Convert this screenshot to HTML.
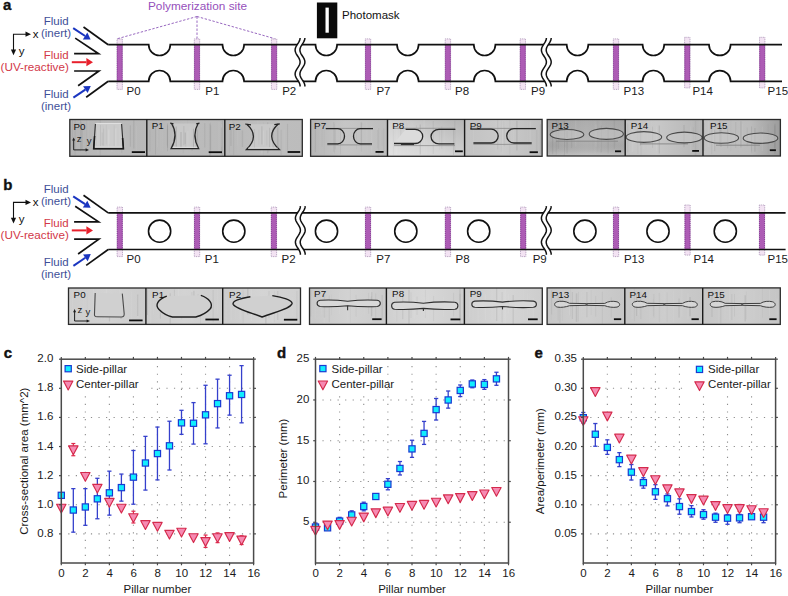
<!DOCTYPE html>
<html><head><meta charset="utf-8"><title>Figure</title>
<style>
html,body{margin:0;padding:0;background:#fff;}
body{width:788px;height:596px;overflow:hidden;}
svg{display:block;font-family:"Liberation Sans", sans-serif;}
</style></head><body>
<svg width="788" height="596" viewBox="0 0 788 596">
<rect x="0" y="0" width="788" height="596" fill="#fff"/>
<text x="3.0" y="9.5" font-size="15" font-weight="bold" fill="#111" stroke="#111" stroke-width="0.35">a</text>
<text x="68.6" y="25.00" font-size="11.5" fill="#3e4f98" text-anchor="end">Fluid</text>
<text x="71.0" y="37.00" font-size="11.5" fill="#3e4f98" text-anchor="end">(inert)</text>
<text x="68.6" y="58.60" font-size="11.5" fill="#d23848" text-anchor="end">Fluid</text>
<text x="68.8" y="70.90" font-size="11.5" fill="#d23848" text-anchor="end" textLength="68.2" lengthAdjust="spacingAndGlyphs">(UV-reactive)</text>
<text x="68.6" y="98.00" font-size="11.5" fill="#3e4f98" text-anchor="end">Fluid</text>
<text x="71.0" y="110.00" font-size="11.5" fill="#3e4f98" text-anchor="end">(inert)</text>
<g stroke="#111" stroke-width="1.1" fill="none"><polyline points="27,34.2 13.5,34.2 13.5,50"/></g>
<polygon points="25.5,31.6 31,34.2 25.5,36.8" fill="#111"/>
<polygon points="10.9,49.6 13.5,55.2 16.1,49.6" fill="#111"/>
<text x="32.8" y="37.60" font-size="11.5" fill="#111">x</text>
<text x="18.8" y="54.80" font-size="11.5" fill="#111">y</text>
<line x1="73.2" y1="28.1" x2="85.09" y2="35.96" stroke="#1a35c0" stroke-width="2.0"/>
<polygon points="90.60,39.60 82.83,39.38 87.35,32.54" fill="#1a35c0"/>
<line x1="71.8" y1="62.2" x2="86.40" y2="62.20" stroke="#e8202c" stroke-width="2.0"/>
<polygon points="93.00,62.20 86.40,66.30 86.40,58.10" fill="#e8202c"/>
<line x1="73.4" y1="97.6" x2="85.32" y2="89.58" stroke="#1a35c0" stroke-width="2.0"/>
<polygon points="90.80,85.90 87.61,92.99 83.04,86.18" fill="#1a35c0"/>
<rect x="117.00" y="38.90" width="5.4" height="50.50" fill="#f3e3f3" stroke="#9c84aa" stroke-width="0.7" stroke-dasharray="1 0.8"/>
<rect x="117.00" y="44.70" width="5.4" height="36.60" fill="#ad5cb5"/>
<path d="M117.20,44.70 V81.30 M122.20,44.70 V81.30" stroke="#7a2f8a" stroke-width="0.8" stroke-dasharray="1 1"/>
<rect x="194.30" y="38.90" width="5.4" height="50.50" fill="#f3e3f3" stroke="#9c84aa" stroke-width="0.7" stroke-dasharray="1 0.8"/>
<rect x="194.30" y="44.70" width="5.4" height="36.60" fill="#ad5cb5"/>
<path d="M194.50,44.70 V81.30 M199.50,44.70 V81.30" stroke="#7a2f8a" stroke-width="0.8" stroke-dasharray="1 1"/>
<rect x="271.40" y="38.90" width="5.4" height="50.50" fill="#f3e3f3" stroke="#9c84aa" stroke-width="0.7" stroke-dasharray="1 0.8"/>
<rect x="271.40" y="44.70" width="5.4" height="36.60" fill="#ad5cb5"/>
<path d="M271.60,44.70 V81.30 M276.60,44.70 V81.30" stroke="#7a2f8a" stroke-width="0.8" stroke-dasharray="1 1"/>
<rect x="365.30" y="38.90" width="5.4" height="50.50" fill="#f3e3f3" stroke="#9c84aa" stroke-width="0.7" stroke-dasharray="1 0.8"/>
<rect x="365.30" y="44.70" width="5.4" height="36.60" fill="#ad5cb5"/>
<path d="M365.50,44.70 V81.30 M370.50,44.70 V81.30" stroke="#7a2f8a" stroke-width="0.8" stroke-dasharray="1 1"/>
<rect x="445.20" y="38.90" width="5.4" height="50.50" fill="#f3e3f3" stroke="#9c84aa" stroke-width="0.7" stroke-dasharray="1 0.8"/>
<rect x="445.20" y="44.70" width="5.4" height="36.60" fill="#ad5cb5"/>
<path d="M445.40,44.70 V81.30 M450.40,44.70 V81.30" stroke="#7a2f8a" stroke-width="0.8" stroke-dasharray="1 1"/>
<rect x="520.10" y="38.90" width="5.4" height="50.50" fill="#f3e3f3" stroke="#9c84aa" stroke-width="0.7" stroke-dasharray="1 0.8"/>
<rect x="520.10" y="44.70" width="5.4" height="36.60" fill="#ad5cb5"/>
<path d="M520.30,44.70 V81.30 M525.30,44.70 V81.30" stroke="#7a2f8a" stroke-width="0.8" stroke-dasharray="1 1"/>
<rect x="613.30" y="38.90" width="5.4" height="50.50" fill="#f3e3f3" stroke="#9c84aa" stroke-width="0.7" stroke-dasharray="1 0.8"/>
<rect x="613.30" y="44.70" width="5.4" height="36.60" fill="#ad5cb5"/>
<path d="M613.50,44.70 V81.30 M618.50,44.70 V81.30" stroke="#7a2f8a" stroke-width="0.8" stroke-dasharray="1 1"/>
<rect x="684.60" y="37.30" width="5.4" height="50.60" fill="#f3e3f3" stroke="#9c84aa" stroke-width="0.7" stroke-dasharray="1 0.8"/>
<rect x="684.60" y="44.70" width="5.4" height="36.60" fill="#ad5cb5"/>
<path d="M684.80,44.70 V81.30 M689.80,44.70 V81.30" stroke="#7a2f8a" stroke-width="0.8" stroke-dasharray="1 1"/>
<rect x="759.50" y="37.30" width="5.4" height="50.60" fill="#f3e3f3" stroke="#9c84aa" stroke-width="0.7" stroke-dasharray="1 0.8"/>
<rect x="759.50" y="44.70" width="5.4" height="36.60" fill="#ad5cb5"/>
<path d="M759.70,44.70 V81.30 M764.70,44.70 V81.30" stroke="#7a2f8a" stroke-width="0.8" stroke-dasharray="1 1"/>
<g fill="none" stroke="#111" stroke-width="1.7" stroke-linejoin="miter">
<polyline points="83.5,27.0 108.2,44.7"/>
<polyline points="75.2,38.1 98.6,53.7 74.1,53.7"/>
<polyline points="74.1,71.0 98.9,71.0 78.1,85.8"/>
<polyline points="86.2,97.2 108.2,81.3"/>
<path d="M108.2,44.7 H148.70 A10.8,10.8 0 0 0 170.30,44.7 H222.50 A10.8,10.8 0 0 0 244.10,44.7 H315.50 A10.8,10.8 0 0 0 337.10,44.7 H397.00 A10.8,10.8 0 0 0 418.60,44.7 H473.80 A10.8,10.8 0 0 0 495.40,44.7 H566.70 A10.8,10.8 0 0 0 588.30,44.7 H642.60 A10.8,10.8 0 0 0 664.20,44.7 H709.00 A10.8,10.8 0 0 0 730.60,44.7 H782.0"/><path d="M108.2,81.3 H148.70 A10.8,10.8 0 0 1 170.30,81.3 H222.50 A10.8,10.8 0 0 1 244.10,81.3 H315.50 A10.8,10.8 0 0 1 337.10,81.3 H397.00 A10.8,10.8 0 0 1 418.60,81.3 H473.80 A10.8,10.8 0 0 1 495.40,81.3 H566.70 A10.8,10.8 0 0 1 588.30,81.3 H642.60 A10.8,10.8 0 0 1 664.20,81.3 H709.00 A10.8,10.8 0 0 1 730.60,81.3 H782.0"/>
</g>
<polygon points="300.10,38.00 299.97,39.22 299.61,40.43 299.05,41.64 298.34,42.86 297.55,44.08 296.77,45.29 296.08,46.50 295.53,47.72 295.20,48.94 295.10,50.15 295.26,51.36 295.65,52.58 296.24,53.80 296.96,55.01 297.75,56.22 298.52,57.44 299.20,58.66 299.72,59.87 300.03,61.08 300.09,62.30 299.91,63.52 299.49,64.73 298.88,65.94 298.15,67.16 297.35,68.38 296.59,69.59 295.92,70.80 295.43,72.02 295.15,73.23 295.12,74.45 295.33,75.66 295.78,76.88 296.40,78.09 297.15,79.31 297.94,80.52 298.70,81.74 299.35,82.95 299.82,84.17 300.07,85.38 300.07,86.60 304.87,86.60 304.87,85.38 304.62,84.17 304.15,82.95 303.50,81.74 302.74,80.52 301.95,79.31 301.20,78.09 300.58,76.88 300.13,75.66 299.92,74.45 299.95,73.23 300.23,72.02 300.72,70.80 301.39,69.59 302.15,68.38 302.95,67.16 303.68,65.94 304.29,64.73 304.71,63.52 304.89,62.30 304.83,61.08 304.52,59.87 304.00,58.66 303.32,57.44 302.55,56.22 301.76,55.01 301.04,53.80 300.45,52.58 300.06,51.36 299.90,50.15 300.00,48.94 300.33,47.72 300.88,46.50 301.57,45.29 302.35,44.08 303.14,42.86 303.85,41.64 304.41,40.43 304.77,39.22 304.90,38.00" fill="#fff" stroke="none"/>
<path d="M300.10,38.00 L299.97,39.22 L299.61,40.43 L299.05,41.64 L298.34,42.86 L297.55,44.08 L296.77,45.29 L296.08,46.50 L295.53,47.72 L295.20,48.94 L295.10,50.15 L295.26,51.36 L295.65,52.58 L296.24,53.80 L296.96,55.01 L297.75,56.22 L298.52,57.44 L299.20,58.66 L299.72,59.87 L300.03,61.08 L300.09,62.30 L299.91,63.52 L299.49,64.73 L298.88,65.94 L298.15,67.16 L297.35,68.38 L296.59,69.59 L295.92,70.80 L295.43,72.02 L295.15,73.23 L295.12,74.45 L295.33,75.66 L295.78,76.88 L296.40,78.09 L297.15,79.31 L297.94,80.52 L298.70,81.74 L299.35,82.95 L299.82,84.17 L300.07,85.38 L300.07,86.60" fill="none" stroke="#111" stroke-width="1.5"/>
<path d="M304.90,38.00 L304.77,39.22 L304.41,40.43 L303.85,41.64 L303.14,42.86 L302.35,44.08 L301.57,45.29 L300.88,46.50 L300.33,47.72 L300.00,48.94 L299.90,50.15 L300.06,51.36 L300.45,52.58 L301.04,53.80 L301.76,55.01 L302.55,56.22 L303.32,57.44 L304.00,58.66 L304.52,59.87 L304.83,61.08 L304.89,62.30 L304.71,63.52 L304.29,64.73 L303.68,65.94 L302.95,67.16 L302.15,68.38 L301.39,69.59 L300.72,70.80 L300.23,72.02 L299.95,73.23 L299.92,74.45 L300.13,75.66 L300.58,76.88 L301.20,78.09 L301.95,79.31 L302.74,80.52 L303.50,81.74 L304.15,82.95 L304.62,84.17 L304.87,85.38 L304.87,86.60" fill="none" stroke="#111" stroke-width="1.5"/>
<polygon points="546.40,38.00 546.27,39.22 545.91,40.43 545.35,41.64 544.64,42.86 543.85,44.08 543.07,45.29 542.38,46.50 541.83,47.72 541.50,48.94 541.40,50.15 541.56,51.36 541.95,52.58 542.54,53.80 543.26,55.01 544.05,56.22 544.82,57.44 545.50,58.66 546.02,59.87 546.33,61.08 546.39,62.30 546.21,63.52 545.79,64.73 545.18,65.94 544.45,67.16 543.65,68.38 542.89,69.59 542.22,70.80 541.73,72.02 541.45,73.23 541.42,74.45 541.63,75.66 542.08,76.88 542.70,78.09 543.45,79.31 544.24,80.52 545.00,81.74 545.65,82.95 546.12,84.17 546.37,85.38 546.37,86.60 551.17,86.60 551.17,85.38 550.92,84.17 550.45,82.95 549.80,81.74 549.04,80.52 548.25,79.31 547.50,78.09 546.88,76.88 546.43,75.66 546.22,74.45 546.25,73.23 546.53,72.02 547.02,70.80 547.69,69.59 548.45,68.38 549.25,67.16 549.98,65.94 550.59,64.73 551.01,63.52 551.19,62.30 551.13,61.08 550.82,59.87 550.30,58.66 549.62,57.44 548.85,56.22 548.06,55.01 547.34,53.80 546.75,52.58 546.36,51.36 546.20,50.15 546.30,48.94 546.63,47.72 547.18,46.50 547.87,45.29 548.65,44.08 549.44,42.86 550.15,41.64 550.71,40.43 551.07,39.22 551.20,38.00" fill="#fff" stroke="none"/>
<path d="M546.40,38.00 L546.27,39.22 L545.91,40.43 L545.35,41.64 L544.64,42.86 L543.85,44.08 L543.07,45.29 L542.38,46.50 L541.83,47.72 L541.50,48.94 L541.40,50.15 L541.56,51.36 L541.95,52.58 L542.54,53.80 L543.26,55.01 L544.05,56.22 L544.82,57.44 L545.50,58.66 L546.02,59.87 L546.33,61.08 L546.39,62.30 L546.21,63.52 L545.79,64.73 L545.18,65.94 L544.45,67.16 L543.65,68.38 L542.89,69.59 L542.22,70.80 L541.73,72.02 L541.45,73.23 L541.42,74.45 L541.63,75.66 L542.08,76.88 L542.70,78.09 L543.45,79.31 L544.24,80.52 L545.00,81.74 L545.65,82.95 L546.12,84.17 L546.37,85.38 L546.37,86.60" fill="none" stroke="#111" stroke-width="1.5"/>
<path d="M551.20,38.00 L551.07,39.22 L550.71,40.43 L550.15,41.64 L549.44,42.86 L548.65,44.08 L547.87,45.29 L547.18,46.50 L546.63,47.72 L546.30,48.94 L546.20,50.15 L546.36,51.36 L546.75,52.58 L547.34,53.80 L548.06,55.01 L548.85,56.22 L549.62,57.44 L550.30,58.66 L550.82,59.87 L551.13,61.08 L551.19,62.30 L551.01,63.52 L550.59,64.73 L549.98,65.94 L549.25,67.16 L548.45,68.38 L547.69,69.59 L547.02,70.80 L546.53,72.02 L546.25,73.23 L546.22,74.45 L546.43,75.66 L546.88,76.88 L547.50,78.09 L548.25,79.31 L549.04,80.52 L549.80,81.74 L550.45,82.95 L550.92,84.17 L551.17,85.38 L551.17,86.60" fill="none" stroke="#111" stroke-width="1.5"/>
<text x="126.5" y="95.00" font-size="11.5" fill="#1a1a1a">P0</text>
<text x="205.3" y="95.00" font-size="11.5" fill="#1a1a1a">P1</text>
<text x="282.2" y="95.00" font-size="11.5" fill="#1a1a1a">P2</text>
<text x="376.4" y="95.00" font-size="11.5" fill="#1a1a1a">P7</text>
<text x="455.0" y="95.00" font-size="11.5" fill="#1a1a1a">P8</text>
<text x="531.0" y="95.00" font-size="11.5" fill="#1a1a1a">P9</text>
<text x="623.6" y="95.00" font-size="11.5" fill="#1a1a1a">P13</text>
<text x="692.4" y="95.00" font-size="11.5" fill="#1a1a1a">P14</text>
<text x="767.6" y="95.00" font-size="11.5" fill="#1a1a1a">P15</text>
<text x="197.5" y="10.0" font-size="11.8" fill="#9550bb" text-anchor="middle">Polymerization site</text>
<g stroke="#9868c0" stroke-width="1" stroke-dasharray="2.4 1.6" fill="none">
<line x1="197" y1="16.5" x2="117.8" y2="38.6"/><line x1="197" y1="16.5" x2="197" y2="38.6"/><line x1="197" y1="16.5" x2="274.5" y2="38.6"/>
</g>
<rect x="316.9" y="2.5" width="20.4" height="35.8" fill="#0a0a0a"/>
<rect x="325.5" y="7.6" width="3.3" height="25.1" fill="#fff"/>
<text x="342" y="18.6" font-size="11.5" fill="#111">Photomask</text>
<text x="3.2" y="189.6" font-size="15" font-weight="bold" fill="#111" stroke="#111" stroke-width="0.35">b</text>
<text x="68.6" y="193.20" font-size="11.5" fill="#3e4f98" text-anchor="end">Fluid</text>
<text x="71.0" y="205.20" font-size="11.5" fill="#3e4f98" text-anchor="end">(inert)</text>
<text x="68.6" y="226.80" font-size="11.5" fill="#d23848" text-anchor="end">Fluid</text>
<text x="68.8" y="239.10" font-size="11.5" fill="#d23848" text-anchor="end" textLength="68.2" lengthAdjust="spacingAndGlyphs">(UV-reactive)</text>
<text x="68.6" y="266.20" font-size="11.5" fill="#3e4f98" text-anchor="end">Fluid</text>
<text x="71.0" y="278.20" font-size="11.5" fill="#3e4f98" text-anchor="end">(inert)</text>
<g stroke="#111" stroke-width="1.1" fill="none"><polyline points="27,202.39999999999998 13.5,202.39999999999998 13.5,218.2"/></g>
<polygon points="25.5,199.79999999999998 31,202.39999999999998 25.5,205.0" fill="#111"/>
<polygon points="10.9,217.79999999999998 13.5,223.39999999999998 16.1,217.79999999999998" fill="#111"/>
<text x="32.8" y="205.80" font-size="11.5" fill="#111">x</text>
<text x="18.8" y="223.00" font-size="11.5" fill="#111">y</text>
<line x1="73.2" y1="196.29999999999998" x2="85.09" y2="204.16" stroke="#1a35c0" stroke-width="2.0"/>
<polygon points="90.60,207.80 82.83,207.58 87.35,200.74" fill="#1a35c0"/>
<line x1="71.8" y1="230.39999999999998" x2="86.40" y2="230.40" stroke="#e8202c" stroke-width="2.0"/>
<polygon points="93.00,230.40 86.40,234.50 86.40,226.30" fill="#e8202c"/>
<line x1="73.4" y1="265.79999999999995" x2="85.32" y2="257.78" stroke="#1a35c0" stroke-width="2.0"/>
<polygon points="90.80,254.10 87.61,261.19 83.04,254.38" fill="#1a35c0"/>
<rect x="117.10" y="207.10" width="5.4" height="49.50" fill="#f3e3f3" stroke="#9c84aa" stroke-width="0.7" stroke-dasharray="1 0.8"/>
<rect x="117.10" y="212.90" width="5.4" height="36.60" fill="#ad5cb5"/>
<path d="M117.30,212.90 V249.50 M122.30,212.90 V249.50" stroke="#7a2f8a" stroke-width="0.8" stroke-dasharray="1 1"/>
<rect x="194.30" y="207.10" width="5.4" height="49.50" fill="#f3e3f3" stroke="#9c84aa" stroke-width="0.7" stroke-dasharray="1 0.8"/>
<rect x="194.30" y="212.90" width="5.4" height="36.60" fill="#ad5cb5"/>
<path d="M194.50,212.90 V249.50 M199.50,212.90 V249.50" stroke="#7a2f8a" stroke-width="0.8" stroke-dasharray="1 1"/>
<rect x="271.20" y="207.10" width="5.4" height="49.50" fill="#f3e3f3" stroke="#9c84aa" stroke-width="0.7" stroke-dasharray="1 0.8"/>
<rect x="271.20" y="212.90" width="5.4" height="36.60" fill="#ad5cb5"/>
<path d="M271.40,212.90 V249.50 M276.40,212.90 V249.50" stroke="#7a2f8a" stroke-width="0.8" stroke-dasharray="1 1"/>
<rect x="365.30" y="207.10" width="5.4" height="49.50" fill="#f3e3f3" stroke="#9c84aa" stroke-width="0.7" stroke-dasharray="1 0.8"/>
<rect x="365.30" y="212.90" width="5.4" height="36.60" fill="#ad5cb5"/>
<path d="M365.50,212.90 V249.50 M370.50,212.90 V249.50" stroke="#7a2f8a" stroke-width="0.8" stroke-dasharray="1 1"/>
<rect x="445.20" y="207.10" width="5.4" height="49.50" fill="#f3e3f3" stroke="#9c84aa" stroke-width="0.7" stroke-dasharray="1 0.8"/>
<rect x="445.20" y="212.90" width="5.4" height="36.60" fill="#ad5cb5"/>
<path d="M445.40,212.90 V249.50 M450.40,212.90 V249.50" stroke="#7a2f8a" stroke-width="0.8" stroke-dasharray="1 1"/>
<rect x="520.50" y="207.10" width="5.4" height="49.50" fill="#f3e3f3" stroke="#9c84aa" stroke-width="0.7" stroke-dasharray="1 0.8"/>
<rect x="520.50" y="212.90" width="5.4" height="36.60" fill="#ad5cb5"/>
<path d="M520.70,212.90 V249.50 M525.70,212.90 V249.50" stroke="#7a2f8a" stroke-width="0.8" stroke-dasharray="1 1"/>
<rect x="613.30" y="207.10" width="5.4" height="49.50" fill="#f3e3f3" stroke="#9c84aa" stroke-width="0.7" stroke-dasharray="1 0.8"/>
<rect x="613.30" y="212.90" width="5.4" height="36.60" fill="#ad5cb5"/>
<path d="M613.50,212.90 V249.50 M618.50,212.90 V249.50" stroke="#7a2f8a" stroke-width="0.8" stroke-dasharray="1 1"/>
<rect x="684.80" y="205.00" width="5.4" height="50.10" fill="#f3e3f3" stroke="#9c84aa" stroke-width="0.7" stroke-dasharray="1 0.8"/>
<rect x="684.80" y="212.90" width="5.4" height="36.60" fill="#ad5cb5"/>
<path d="M685.00,212.90 V249.50 M690.00,212.90 V249.50" stroke="#7a2f8a" stroke-width="0.8" stroke-dasharray="1 1"/>
<rect x="759.30" y="205.00" width="5.4" height="50.10" fill="#f3e3f3" stroke="#9c84aa" stroke-width="0.7" stroke-dasharray="1 0.8"/>
<rect x="759.30" y="212.90" width="5.4" height="36.60" fill="#ad5cb5"/>
<path d="M759.50,212.90 V249.50 M764.50,212.90 V249.50" stroke="#7a2f8a" stroke-width="0.8" stroke-dasharray="1 1"/>
<g fill="none" stroke="#111" stroke-width="1.7" stroke-linejoin="miter">
<polyline points="83.5,195.2 108.2,212.89999999999998"/>
<polyline points="75.2,206.29999999999998 98.6,221.89999999999998 74.1,221.89999999999998"/>
<polyline points="74.1,239.2 98.9,239.2 78.1,254.0"/>
<polyline points="86.2,265.4 108.2,249.5"/>
<path d="M108.2,212.89999999999998 H785.6"/><path d="M108.2,249.5 H785.6"/>
<circle cx="159.6" cy="231.20" r="11.1" stroke-width="1.6"/>
<circle cx="233.8" cy="231.20" r="11.1" stroke-width="1.6"/>
<circle cx="326.5" cy="231.20" r="11.1" stroke-width="1.6"/>
<circle cx="405.8" cy="231.20" r="11.1" stroke-width="1.6"/>
<circle cx="478.7" cy="231.20" r="11.1" stroke-width="1.6"/>
<circle cx="584.9" cy="231.20" r="11.1" stroke-width="1.6"/>
<circle cx="658.0" cy="231.20" r="11.1" stroke-width="1.6"/>
<circle cx="725.3" cy="231.20" r="11.1" stroke-width="1.6"/>
</g>
<polygon points="300.40,206.20 300.27,207.41 299.91,208.63 299.35,209.84 298.64,211.06 297.85,212.27 297.07,213.49 296.38,214.70 295.83,215.92 295.50,217.13 295.40,218.35 295.56,219.56 295.95,220.78 296.54,221.99 297.26,223.21 298.05,224.42 298.82,225.64 299.50,226.85 300.02,228.07 300.33,229.28 300.39,230.50 300.21,231.71 299.79,232.93 299.18,234.14 298.45,235.36 297.65,236.57 296.89,237.79 296.22,239.00 295.73,240.22 295.45,241.44 295.42,242.65 295.63,243.86 296.08,245.08 296.70,246.29 297.45,247.51 298.24,248.72 299.00,249.94 299.65,251.15 300.12,252.37 300.37,253.58 300.37,254.80 305.17,254.80 305.17,253.58 304.92,252.37 304.45,251.15 303.80,249.94 303.04,248.72 302.25,247.51 301.50,246.29 300.88,245.08 300.43,243.86 300.22,242.65 300.25,241.44 300.53,240.22 301.02,239.00 301.69,237.79 302.45,236.57 303.25,235.36 303.98,234.14 304.59,232.93 305.01,231.71 305.19,230.50 305.13,229.28 304.82,228.07 304.30,226.85 303.62,225.64 302.85,224.42 302.06,223.21 301.34,221.99 300.75,220.78 300.36,219.56 300.20,218.35 300.30,217.13 300.63,215.92 301.18,214.70 301.87,213.49 302.65,212.27 303.44,211.06 304.15,209.84 304.71,208.63 305.07,207.41 305.20,206.20" fill="#fff" stroke="none"/>
<path d="M300.40,206.20 L300.27,207.41 L299.91,208.63 L299.35,209.84 L298.64,211.06 L297.85,212.27 L297.07,213.49 L296.38,214.70 L295.83,215.92 L295.50,217.13 L295.40,218.35 L295.56,219.56 L295.95,220.78 L296.54,221.99 L297.26,223.21 L298.05,224.42 L298.82,225.64 L299.50,226.85 L300.02,228.07 L300.33,229.28 L300.39,230.50 L300.21,231.71 L299.79,232.93 L299.18,234.14 L298.45,235.36 L297.65,236.57 L296.89,237.79 L296.22,239.00 L295.73,240.22 L295.45,241.44 L295.42,242.65 L295.63,243.86 L296.08,245.08 L296.70,246.29 L297.45,247.51 L298.24,248.72 L299.00,249.94 L299.65,251.15 L300.12,252.37 L300.37,253.58 L300.37,254.80" fill="none" stroke="#111" stroke-width="1.5"/>
<path d="M305.20,206.20 L305.07,207.41 L304.71,208.63 L304.15,209.84 L303.44,211.06 L302.65,212.27 L301.87,213.49 L301.18,214.70 L300.63,215.92 L300.30,217.13 L300.20,218.35 L300.36,219.56 L300.75,220.78 L301.34,221.99 L302.06,223.21 L302.85,224.42 L303.62,225.64 L304.30,226.85 L304.82,228.07 L305.13,229.28 L305.19,230.50 L305.01,231.71 L304.59,232.93 L303.98,234.14 L303.25,235.36 L302.45,236.57 L301.69,237.79 L301.02,239.00 L300.53,240.22 L300.25,241.44 L300.22,242.65 L300.43,243.86 L300.88,245.08 L301.50,246.29 L302.25,247.51 L303.04,248.72 L303.80,249.94 L304.45,251.15 L304.92,252.37 L305.17,253.58 L305.17,254.80" fill="none" stroke="#111" stroke-width="1.5"/>
<polygon points="546.40,206.20 546.27,207.41 545.91,208.63 545.35,209.84 544.64,211.06 543.85,212.27 543.07,213.49 542.38,214.70 541.83,215.92 541.50,217.13 541.40,218.35 541.56,219.56 541.95,220.78 542.54,221.99 543.26,223.21 544.05,224.42 544.82,225.64 545.50,226.85 546.02,228.07 546.33,229.28 546.39,230.50 546.21,231.71 545.79,232.93 545.18,234.14 544.45,235.36 543.65,236.57 542.89,237.79 542.22,239.00 541.73,240.22 541.45,241.44 541.42,242.65 541.63,243.86 542.08,245.08 542.70,246.29 543.45,247.51 544.24,248.72 545.00,249.94 545.65,251.15 546.12,252.37 546.37,253.58 546.37,254.80 551.17,254.80 551.17,253.58 550.92,252.37 550.45,251.15 549.80,249.94 549.04,248.72 548.25,247.51 547.50,246.29 546.88,245.08 546.43,243.86 546.22,242.65 546.25,241.44 546.53,240.22 547.02,239.00 547.69,237.79 548.45,236.57 549.25,235.36 549.98,234.14 550.59,232.93 551.01,231.71 551.19,230.50 551.13,229.28 550.82,228.07 550.30,226.85 549.62,225.64 548.85,224.42 548.06,223.21 547.34,221.99 546.75,220.78 546.36,219.56 546.20,218.35 546.30,217.13 546.63,215.92 547.18,214.70 547.87,213.49 548.65,212.27 549.44,211.06 550.15,209.84 550.71,208.63 551.07,207.41 551.20,206.20" fill="#fff" stroke="none"/>
<path d="M546.40,206.20 L546.27,207.41 L545.91,208.63 L545.35,209.84 L544.64,211.06 L543.85,212.27 L543.07,213.49 L542.38,214.70 L541.83,215.92 L541.50,217.13 L541.40,218.35 L541.56,219.56 L541.95,220.78 L542.54,221.99 L543.26,223.21 L544.05,224.42 L544.82,225.64 L545.50,226.85 L546.02,228.07 L546.33,229.28 L546.39,230.50 L546.21,231.71 L545.79,232.93 L545.18,234.14 L544.45,235.36 L543.65,236.57 L542.89,237.79 L542.22,239.00 L541.73,240.22 L541.45,241.44 L541.42,242.65 L541.63,243.86 L542.08,245.08 L542.70,246.29 L543.45,247.51 L544.24,248.72 L545.00,249.94 L545.65,251.15 L546.12,252.37 L546.37,253.58 L546.37,254.80" fill="none" stroke="#111" stroke-width="1.5"/>
<path d="M551.20,206.20 L551.07,207.41 L550.71,208.63 L550.15,209.84 L549.44,211.06 L548.65,212.27 L547.87,213.49 L547.18,214.70 L546.63,215.92 L546.30,217.13 L546.20,218.35 L546.36,219.56 L546.75,220.78 L547.34,221.99 L548.06,223.21 L548.85,224.42 L549.62,225.64 L550.30,226.85 L550.82,228.07 L551.13,229.28 L551.19,230.50 L551.01,231.71 L550.59,232.93 L549.98,234.14 L549.25,235.36 L548.45,236.57 L547.69,237.79 L547.02,239.00 L546.53,240.22 L546.25,241.44 L546.22,242.65 L546.43,243.86 L546.88,245.08 L547.50,246.29 L548.25,247.51 L549.04,248.72 L549.80,249.94 L550.45,251.15 L550.92,252.37 L551.17,253.58 L551.17,254.80" fill="none" stroke="#111" stroke-width="1.5"/>
<text x="126.6" y="263.20" font-size="11.5" fill="#1a1a1a">P0</text>
<text x="204.8" y="263.20" font-size="11.5" fill="#1a1a1a">P1</text>
<text x="281.6" y="263.20" font-size="11.5" fill="#1a1a1a">P2</text>
<text x="376.3" y="263.20" font-size="11.5" fill="#1a1a1a">P7</text>
<text x="455.6" y="263.20" font-size="11.5" fill="#1a1a1a">P8</text>
<text x="532.7" y="263.20" font-size="11.5" fill="#1a1a1a">P9</text>
<text x="623.9" y="263.20" font-size="11.5" fill="#1a1a1a">P13</text>
<text x="693.5" y="263.20" font-size="11.5" fill="#1a1a1a">P14</text>
<text x="767.5" y="263.20" font-size="11.5" fill="#1a1a1a">P15</text>
<defs><linearGradient id="g1" x1="0" y1="0" x2="1" y2="0"><stop offset="0" stop-color="#b4b4b4"/><stop offset="0.5" stop-color="#bababa"/><stop offset="1" stop-color="#b8b8b8"/></linearGradient></defs>
<rect x="69.80" y="119.50" width="77.00" height="36.80" fill="url(#g1)"/>
<g><line x1="95.1" y1="125.4" x2="95.1" y2="152.3" stroke="#fff" stroke-opacity="0.034" stroke-width="0.7"/><line x1="75.1" y1="120.3" x2="75.1" y2="155.3" stroke="#000" stroke-opacity="0.052" stroke-width="1.1"/><line x1="102.6" y1="126.4" x2="102.6" y2="145.8" stroke="#000" stroke-opacity="0.041" stroke-width="1.4"/><line x1="114.1" y1="129.0" x2="114.1" y2="153.1" stroke="#fff" stroke-opacity="0.032" stroke-width="0.9"/><line x1="81.6" y1="121.5" x2="81.6" y2="149.9" stroke="#000" stroke-opacity="0.071" stroke-width="0.6"/><line x1="118.7" y1="120.2" x2="118.7" y2="154.0" stroke="#fff" stroke-opacity="0.033" stroke-width="0.9"/><line x1="121.8" y1="124.5" x2="121.8" y2="153.0" stroke="#000" stroke-opacity="0.059" stroke-width="1.0"/><line x1="130.4" y1="125.3" x2="130.4" y2="146.6" stroke="#000" stroke-opacity="0.059" stroke-width="1.3"/><line x1="125.5" y1="124.1" x2="125.5" y2="147.9" stroke="#fff" stroke-opacity="0.036" stroke-width="0.8"/><line x1="82.2" y1="127.9" x2="82.2" y2="150.0" stroke="#000" stroke-opacity="0.063" stroke-width="1.0"/><line x1="136.5" y1="125.9" x2="136.5" y2="151.3" stroke="#fff" stroke-opacity="0.060" stroke-width="0.8"/><line x1="133.8" y1="120.2" x2="133.8" y2="148.6" stroke="#000" stroke-opacity="0.063" stroke-width="1.5"/><line x1="119.3" y1="123.8" x2="119.3" y2="148.9" stroke="#fff" stroke-opacity="0.044" stroke-width="1.6"/><line x1="72.5" y1="120.2" x2="72.5" y2="147.8" stroke="#000" stroke-opacity="0.036" stroke-width="1.0"/><line x1="80.5" y1="120.4" x2="80.5" y2="151.3" stroke="#000" stroke-opacity="0.074" stroke-width="0.8"/><line x1="112.0" y1="122.6" x2="112.0" y2="151.7" stroke="#fff" stroke-opacity="0.073" stroke-width="1.5"/><line x1="97.7" y1="121.4" x2="97.7" y2="153.7" stroke="#fff" stroke-opacity="0.038" stroke-width="1.5"/><line x1="88.3" y1="119.5" x2="88.3" y2="151.7" stroke="#fff" stroke-opacity="0.043" stroke-width="1.0"/><line x1="98.5" y1="125.2" x2="98.5" y2="149.5" stroke="#fff" stroke-opacity="0.065" stroke-width="1.1"/><line x1="121.5" y1="129.2" x2="121.5" y2="147.5" stroke="#fff" stroke-opacity="0.069" stroke-width="0.6"/><line x1="100.2" y1="120.2" x2="100.2" y2="155.6" stroke="#000" stroke-opacity="0.062" stroke-width="0.9"/><line x1="86.5" y1="119.5" x2="86.5" y2="154.6" stroke="#000" stroke-opacity="0.033" stroke-width="0.7"/></g>
<defs><linearGradient id="g2" x1="0" y1="0" x2="1" y2="0"><stop offset="0" stop-color="#b6b6b6"/><stop offset="0.5" stop-color="#bcbcbc"/><stop offset="1" stop-color="#b9b9b9"/></linearGradient></defs>
<rect x="146.80" y="119.50" width="78.00" height="36.80" fill="url(#g2)"/>
<g><line x1="155.5" y1="126.3" x2="155.5" y2="154.7" stroke="#000" stroke-opacity="0.074" stroke-width="0.9"/><line x1="167.0" y1="128.9" x2="167.0" y2="145.3" stroke="#000" stroke-opacity="0.036" stroke-width="0.9"/><line x1="183.2" y1="123.3" x2="183.2" y2="153.4" stroke="#000" stroke-opacity="0.035" stroke-width="1.0"/><line x1="210.8" y1="125.3" x2="210.8" y2="154.7" stroke="#000" stroke-opacity="0.078" stroke-width="0.7"/><line x1="189.1" y1="129.0" x2="189.1" y2="148.6" stroke="#fff" stroke-opacity="0.079" stroke-width="0.5"/><line x1="167.6" y1="125.4" x2="167.6" y2="147.7" stroke="#000" stroke-opacity="0.069" stroke-width="0.9"/><line x1="172.9" y1="128.9" x2="172.9" y2="147.4" stroke="#fff" stroke-opacity="0.079" stroke-width="0.7"/><line x1="210.0" y1="123.4" x2="210.0" y2="156.0" stroke="#000" stroke-opacity="0.056" stroke-width="1.3"/><line x1="149.9" y1="130.1" x2="149.9" y2="151.4" stroke="#000" stroke-opacity="0.065" stroke-width="0.8"/><line x1="219.0" y1="121.9" x2="219.0" y2="153.8" stroke="#fff" stroke-opacity="0.048" stroke-width="1.6"/><line x1="162.7" y1="128.8" x2="162.7" y2="151.0" stroke="#fff" stroke-opacity="0.075" stroke-width="0.7"/><line x1="197.4" y1="129.5" x2="197.4" y2="147.7" stroke="#000" stroke-opacity="0.063" stroke-width="1.4"/><line x1="204.8" y1="123.2" x2="204.8" y2="147.5" stroke="#000" stroke-opacity="0.069" stroke-width="1.0"/><line x1="221.6" y1="127.5" x2="221.6" y2="154.4" stroke="#000" stroke-opacity="0.077" stroke-width="0.9"/><line x1="157.5" y1="121.1" x2="157.5" y2="147.2" stroke="#fff" stroke-opacity="0.070" stroke-width="0.7"/><line x1="222.3" y1="120.9" x2="222.3" y2="156.1" stroke="#000" stroke-opacity="0.057" stroke-width="1.2"/><line x1="221.6" y1="124.3" x2="221.6" y2="146.7" stroke="#fff" stroke-opacity="0.077" stroke-width="1.2"/><line x1="210.6" y1="122.2" x2="210.6" y2="149.8" stroke="#000" stroke-opacity="0.045" stroke-width="0.7"/><line x1="167.5" y1="123.4" x2="167.5" y2="151.2" stroke="#000" stroke-opacity="0.076" stroke-width="1.0"/><line x1="192.1" y1="125.0" x2="192.1" y2="150.4" stroke="#000" stroke-opacity="0.076" stroke-width="1.5"/><line x1="187.6" y1="119.5" x2="187.6" y2="147.5" stroke="#000" stroke-opacity="0.039" stroke-width="0.5"/><line x1="160.9" y1="123.1" x2="160.9" y2="150.6" stroke="#fff" stroke-opacity="0.058" stroke-width="1.0"/></g>
<defs><linearGradient id="g3" x1="0" y1="0" x2="1" y2="0"><stop offset="0" stop-color="#b8b8b8"/><stop offset="0.5" stop-color="#bebebe"/><stop offset="1" stop-color="#bcbcbc"/></linearGradient></defs>
<rect x="224.80" y="119.50" width="77.50" height="36.80" fill="url(#g3)"/>
<g><line x1="267.7" y1="122.2" x2="267.7" y2="153.2" stroke="#000" stroke-opacity="0.058" stroke-width="1.4"/><line x1="284.1" y1="129.6" x2="284.1" y2="151.4" stroke="#fff" stroke-opacity="0.068" stroke-width="1.1"/><line x1="272.0" y1="124.5" x2="272.0" y2="150.4" stroke="#fff" stroke-opacity="0.065" stroke-width="1.1"/><line x1="261.9" y1="129.9" x2="261.9" y2="153.4" stroke="#fff" stroke-opacity="0.074" stroke-width="1.5"/><line x1="268.0" y1="120.8" x2="268.0" y2="151.4" stroke="#fff" stroke-opacity="0.037" stroke-width="1.5"/><line x1="231.3" y1="128.2" x2="231.3" y2="146.4" stroke="#000" stroke-opacity="0.063" stroke-width="0.8"/><line x1="237.5" y1="129.2" x2="237.5" y2="145.6" stroke="#fff" stroke-opacity="0.037" stroke-width="1.3"/><line x1="242.4" y1="130.4" x2="242.4" y2="147.1" stroke="#000" stroke-opacity="0.054" stroke-width="1.5"/><line x1="238.0" y1="121.7" x2="238.0" y2="152.8" stroke="#fff" stroke-opacity="0.047" stroke-width="1.0"/><line x1="280.3" y1="119.7" x2="280.3" y2="152.6" stroke="#fff" stroke-opacity="0.052" stroke-width="0.5"/><line x1="272.9" y1="128.2" x2="272.9" y2="145.6" stroke="#000" stroke-opacity="0.079" stroke-width="1.1"/><line x1="233.7" y1="122.5" x2="233.7" y2="154.9" stroke="#000" stroke-opacity="0.069" stroke-width="0.8"/><line x1="257.7" y1="121.1" x2="257.7" y2="146.2" stroke="#fff" stroke-opacity="0.043" stroke-width="1.5"/><line x1="268.9" y1="127.1" x2="268.9" y2="151.6" stroke="#000" stroke-opacity="0.033" stroke-width="1.3"/><line x1="231.3" y1="120.4" x2="231.3" y2="146.8" stroke="#fff" stroke-opacity="0.070" stroke-width="1.5"/><line x1="230.8" y1="125.6" x2="230.8" y2="146.1" stroke="#000" stroke-opacity="0.047" stroke-width="1.4"/><line x1="246.0" y1="120.7" x2="246.0" y2="154.5" stroke="#fff" stroke-opacity="0.042" stroke-width="0.6"/><line x1="229.6" y1="127.9" x2="229.6" y2="153.1" stroke="#000" stroke-opacity="0.045" stroke-width="0.7"/><line x1="263.6" y1="122.3" x2="263.6" y2="156.1" stroke="#000" stroke-opacity="0.031" stroke-width="0.7"/><line x1="281.1" y1="129.8" x2="281.1" y2="155.1" stroke="#000" stroke-opacity="0.054" stroke-width="1.1"/><line x1="287.6" y1="123.8" x2="287.6" y2="150.7" stroke="#000" stroke-opacity="0.072" stroke-width="1.0"/><line x1="277.7" y1="127.3" x2="277.7" y2="149.3" stroke="#000" stroke-opacity="0.072" stroke-width="1.6"/></g>
<path d="M95.6,123.5 L121.5,123.5 L123.4,148.4 L93.7,148.4 Z" fill="#cbcbcb"/>
<defs><clipPath id="c1"><path d="M95.6,123.5 L121.5,123.5 L123.4,148.4 L93.7,148.4 Z"/></clipPath></defs>
<g clip-path="url(#c1)"><line x1="106.3" y1="124.7" x2="106.3" y2="144.4" stroke="#000" stroke-opacity="0.050" stroke-width="0.8"/><line x1="102.2" y1="132.4" x2="102.2" y2="144.8" stroke="#000" stroke-opacity="0.107" stroke-width="0.6"/><line x1="102.9" y1="125.5" x2="102.9" y2="145.9" stroke="#000" stroke-opacity="0.077" stroke-width="0.7"/><line x1="102.4" y1="126.3" x2="102.4" y2="143.4" stroke="#fff" stroke-opacity="0.084" stroke-width="1.4"/><line x1="103.7" y1="128.6" x2="103.7" y2="145.6" stroke="#000" stroke-opacity="0.071" stroke-width="0.8"/><line x1="100.6" y1="124.9" x2="100.6" y2="146.1" stroke="#000" stroke-opacity="0.061" stroke-width="1.0"/><line x1="96.2" y1="129.6" x2="96.2" y2="145.5" stroke="#000" stroke-opacity="0.059" stroke-width="0.5"/><line x1="116.0" y1="127.7" x2="116.0" y2="146.4" stroke="#fff" stroke-opacity="0.110" stroke-width="1.1"/><line x1="122.6" y1="124.4" x2="122.6" y2="144.0" stroke="#fff" stroke-opacity="0.091" stroke-width="0.6"/><line x1="120.0" y1="125.3" x2="120.0" y2="145.5" stroke="#fff" stroke-opacity="0.105" stroke-width="1.1"/><line x1="109.1" y1="129.6" x2="109.1" y2="143.7" stroke="#fff" stroke-opacity="0.106" stroke-width="1.3"/><line x1="114.1" y1="125.3" x2="114.1" y2="146.3" stroke="#000" stroke-opacity="0.042" stroke-width="1.1"/><line x1="97.9" y1="130.0" x2="97.9" y2="144.7" stroke="#fff" stroke-opacity="0.090" stroke-width="1.3"/><line x1="108.7" y1="128.8" x2="108.7" y2="145.4" stroke="#fff" stroke-opacity="0.100" stroke-width="0.5"/><line x1="113.5" y1="124.7" x2="113.5" y2="146.7" stroke="#fff" stroke-opacity="0.060" stroke-width="0.6"/><line x1="115.4" y1="128.7" x2="115.4" y2="146.2" stroke="#fff" stroke-opacity="0.118" stroke-width="0.7"/><line x1="108.4" y1="130.2" x2="108.4" y2="147.6" stroke="#fff" stroke-opacity="0.089" stroke-width="1.1"/><line x1="99.1" y1="129.5" x2="99.1" y2="147.9" stroke="#fff" stroke-opacity="0.064" stroke-width="0.7"/></g>
<path d="M95.6,123.5 L121.5,123.5" stroke="#e2e2e2" stroke-width="0.9"/>
<path d="M95.4,124 L93.7,148.6 L123.4,148.6 L121.6,124" stroke="#2a2a2a" fill="none" stroke-width="1.1"/>
<path d="M94.6,136 L93.7,148.6 L123.4,148.6 L122.6,138" stroke="#1a1a1a" fill="none" stroke-width="1.6"/>
<path d="M95,147.2 L122.2,147.2" stroke="#e8e8e8" stroke-width="0.8"/>
<line x1="131.80" y1="152.10" x2="145.00" y2="152.10" stroke="#0e0e0e" stroke-width="1.8"/>
<g stroke="#1e1e1e" stroke-width="1" fill="none"><polyline points="73.7,139.8 73.7,149.9 86.2,149.9"/></g>
<polygon points="72.2,140.6 73.7,137.4 75.2,140.6" fill="#1e1e1e"/><polygon points="85.6,148.3 89,149.9 85.6,151.5" fill="#1e1e1e"/>
<text x="76.8" y="141.6" font-size="9.6" fill="#1e1e1e">z</text><text x="86.8" y="143.6" font-size="9.6" fill="#1e1e1e">y</text>
<path d="M171.6,123.5 Q178.8,135 171.1,148.6 L198.6,148.6 Q191.4,135 198.1,123.5 Z" fill="#c8c8c8"/>
<defs><clipPath id="c2"><path d="M171.6,123.5 Q178.8,135 171.1,148.6 L198.6,148.6 Q191.4,135 198.1,123.5 Z"/></clipPath></defs>
<g clip-path="url(#c2)"><line x1="175.3" y1="130.5" x2="175.3" y2="146.6" stroke="#fff" stroke-opacity="0.095" stroke-width="0.7"/><line x1="185.4" y1="132.6" x2="185.4" y2="147.0" stroke="#000" stroke-opacity="0.049" stroke-width="0.9"/><line x1="195.5" y1="131.9" x2="195.5" y2="143.4" stroke="#000" stroke-opacity="0.077" stroke-width="1.3"/><line x1="183.9" y1="126.0" x2="183.9" y2="145.2" stroke="#000" stroke-opacity="0.116" stroke-width="0.7"/><line x1="177.1" y1="131.9" x2="177.1" y2="145.6" stroke="#fff" stroke-opacity="0.051" stroke-width="1.0"/><line x1="193.5" y1="128.7" x2="193.5" y2="147.9" stroke="#000" stroke-opacity="0.112" stroke-width="1.1"/><line x1="174.1" y1="125.4" x2="174.1" y2="146.3" stroke="#000" stroke-opacity="0.064" stroke-width="0.9"/><line x1="181.0" y1="132.1" x2="181.0" y2="147.4" stroke="#000" stroke-opacity="0.100" stroke-width="1.3"/><line x1="194.4" y1="127.6" x2="194.4" y2="146.1" stroke="#fff" stroke-opacity="0.063" stroke-width="1.1"/><line x1="196.0" y1="126.6" x2="196.0" y2="147.8" stroke="#000" stroke-opacity="0.074" stroke-width="1.0"/><line x1="176.2" y1="126.4" x2="176.2" y2="146.7" stroke="#000" stroke-opacity="0.115" stroke-width="1.3"/><line x1="185.2" y1="132.5" x2="185.2" y2="144.1" stroke="#000" stroke-opacity="0.116" stroke-width="0.7"/><line x1="187.9" y1="130.9" x2="187.9" y2="147.8" stroke="#fff" stroke-opacity="0.084" stroke-width="1.3"/><line x1="190.1" y1="126.7" x2="190.1" y2="147.8" stroke="#fff" stroke-opacity="0.092" stroke-width="0.9"/></g>
<path d="M171.6,123.5 Q178.8,135 171.1,148.6 L198.6,148.6 Q191.4,135 198.1,123.5" stroke="#262626" fill="none" stroke-width="1.3" stroke-width="1.4"/>
<path d="M170.2,123.2 L173.5,123.8 M199.5,123.2 L196.2,123.8" stroke="#222" stroke-width="1.2"/>
<path d="M172.5,147.3 L197.3,147.3" stroke="#e6e6e6" stroke-width="0.8"/>
<line x1="208.70" y1="152.20" x2="222.00" y2="152.20" stroke="#0e0e0e" stroke-width="1.8"/>
<path d="M246.8,124.3 Q260.2,136.3 246.5,149.5 L279.3,149.5 Q264.6,136.3 278.3,124.1 Z" fill="#c8c8c8"/>
<defs><clipPath id="c3"><path d="M246.8,124.3 Q260.2,136.3 246.5,149.5 L279.3,149.5 Q264.6,136.3 278.3,124.1 Z"/></clipPath></defs>
<g clip-path="url(#c3)"><line x1="274.1" y1="127.0" x2="274.1" y2="145.3" stroke="#000" stroke-opacity="0.067" stroke-width="0.6"/><line x1="275.4" y1="129.6" x2="275.4" y2="147.0" stroke="#fff" stroke-opacity="0.064" stroke-width="0.7"/><line x1="254.4" y1="129.0" x2="254.4" y2="147.9" stroke="#000" stroke-opacity="0.112" stroke-width="0.6"/><line x1="273.6" y1="125.9" x2="273.6" y2="148.5" stroke="#000" stroke-opacity="0.051" stroke-width="1.4"/><line x1="258.9" y1="129.7" x2="258.9" y2="144.6" stroke="#000" stroke-opacity="0.061" stroke-width="0.6"/><line x1="269.5" y1="127.8" x2="269.5" y2="147.3" stroke="#000" stroke-opacity="0.082" stroke-width="0.9"/><line x1="251.6" y1="129.0" x2="251.6" y2="145.9" stroke="#fff" stroke-opacity="0.050" stroke-width="0.7"/><line x1="272.4" y1="128.0" x2="272.4" y2="146.8" stroke="#000" stroke-opacity="0.060" stroke-width="0.7"/><line x1="274.8" y1="124.3" x2="274.8" y2="145.5" stroke="#fff" stroke-opacity="0.042" stroke-width="1.3"/><line x1="273.3" y1="127.9" x2="273.3" y2="144.4" stroke="#fff" stroke-opacity="0.040" stroke-width="0.9"/><line x1="271.5" y1="125.1" x2="271.5" y2="148.2" stroke="#fff" stroke-opacity="0.060" stroke-width="1.3"/><line x1="263.6" y1="130.5" x2="263.6" y2="145.2" stroke="#fff" stroke-opacity="0.098" stroke-width="1.1"/><line x1="261.9" y1="126.3" x2="261.9" y2="144.4" stroke="#000" stroke-opacity="0.103" stroke-width="1.0"/><line x1="266.8" y1="130.4" x2="266.8" y2="145.5" stroke="#000" stroke-opacity="0.060" stroke-width="0.8"/></g>
<path d="M246.8,124.3 Q260.2,136.3 246.5,149.5 L279.3,149.5 Q264.6,136.3 278.3,124.1" stroke="#262626" fill="none" stroke-width="1.3" stroke-width="1.4"/>
<path d="M245.2,124 L251,124.8 M279.8,123.8 L274.3,124.6" stroke="#222" stroke-width="1.2"/>
<path d="M248,148.2 L278,148.2" stroke="#e6e6e6" stroke-width="0.8"/>
<line x1="287.60" y1="152.00" x2="300.20" y2="152.00" stroke="#0e0e0e" stroke-width="1.8"/>
<rect x="69.80" y="119.50" width="232.50" height="36.80" fill="none" stroke="#2a2a2a" stroke-width="1.3"/>
<line x1="146.80" y1="119.50" x2="146.80" y2="156.30" stroke="#1a1a1a" stroke-width="1.4"/>
<line x1="224.80" y1="119.50" x2="224.80" y2="156.30" stroke="#1a1a1a" stroke-width="1.4"/>
<text x="73.40" y="129.60" font-size="9.8" fill="#111">P0</text>
<text x="151.80" y="129.40" font-size="9.8" fill="#111">P1</text>
<text x="228.80" y="129.50" font-size="9.8" fill="#111">P2</text>
<defs><linearGradient id="g4" x1="0" y1="0" x2="1" y2="0"><stop offset="0" stop-color="#b6b6b6"/><stop offset="0.45" stop-color="#c6c6c6"/><stop offset="1" stop-color="#bdbdbd"/></linearGradient></defs>
<rect x="310.60" y="119.40" width="76.90" height="36.90" fill="url(#g4)"/>
<g><line x1="320.0" y1="123.7" x2="320.0" y2="153.8" stroke="#fff" stroke-opacity="0.059" stroke-width="0.6"/><line x1="356.6" y1="130.0" x2="356.6" y2="149.2" stroke="#000" stroke-opacity="0.053" stroke-width="0.5"/><line x1="377.8" y1="130.0" x2="377.8" y2="148.5" stroke="#000" stroke-opacity="0.042" stroke-width="1.0"/><line x1="334.6" y1="124.0" x2="334.6" y2="153.5" stroke="#000" stroke-opacity="0.064" stroke-width="0.5"/><line x1="361.6" y1="123.1" x2="361.6" y2="151.6" stroke="#000" stroke-opacity="0.032" stroke-width="1.5"/><line x1="362.7" y1="125.0" x2="362.7" y2="154.0" stroke="#fff" stroke-opacity="0.067" stroke-width="0.7"/><line x1="384.2" y1="121.9" x2="384.2" y2="147.9" stroke="#fff" stroke-opacity="0.042" stroke-width="0.8"/><line x1="333.7" y1="121.9" x2="333.7" y2="151.7" stroke="#000" stroke-opacity="0.039" stroke-width="1.5"/><line x1="361.4" y1="121.8" x2="361.4" y2="145.5" stroke="#000" stroke-opacity="0.050" stroke-width="1.5"/><line x1="322.2" y1="129.3" x2="322.2" y2="146.5" stroke="#000" stroke-opacity="0.050" stroke-width="0.6"/><line x1="366.5" y1="121.5" x2="366.5" y2="145.9" stroke="#fff" stroke-opacity="0.046" stroke-width="1.6"/><line x1="367.5" y1="123.5" x2="367.5" y2="152.6" stroke="#fff" stroke-opacity="0.049" stroke-width="0.5"/><line x1="324.3" y1="130.0" x2="324.3" y2="154.9" stroke="#000" stroke-opacity="0.048" stroke-width="0.5"/><line x1="383.8" y1="128.5" x2="383.8" y2="151.5" stroke="#000" stroke-opacity="0.071" stroke-width="0.7"/><line x1="315.3" y1="121.5" x2="315.3" y2="152.3" stroke="#000" stroke-opacity="0.076" stroke-width="1.0"/><line x1="378.8" y1="127.9" x2="378.8" y2="155.9" stroke="#000" stroke-opacity="0.071" stroke-width="0.5"/><line x1="314.2" y1="127.7" x2="314.2" y2="146.4" stroke="#fff" stroke-opacity="0.043" stroke-width="0.6"/><line x1="337.0" y1="122.3" x2="337.0" y2="148.4" stroke="#fff" stroke-opacity="0.061" stroke-width="0.8"/><line x1="335.3" y1="129.5" x2="335.3" y2="149.3" stroke="#000" stroke-opacity="0.068" stroke-width="0.8"/><line x1="382.2" y1="130.0" x2="382.2" y2="145.7" stroke="#000" stroke-opacity="0.054" stroke-width="0.5"/><line x1="340.5" y1="129.7" x2="340.5" y2="154.3" stroke="#000" stroke-opacity="0.055" stroke-width="0.8"/><line x1="371.7" y1="126.1" x2="371.7" y2="152.7" stroke="#fff" stroke-opacity="0.069" stroke-width="1.3"/></g>
<defs><linearGradient id="g5" x1="0" y1="1" x2="1" y2="0"><stop offset="0" stop-color="#e2e2e2"/><stop offset="0.45" stop-color="#d2d2d2"/><stop offset="1" stop-color="#b4b4b4"/></linearGradient></defs>
<rect x="387.50" y="119.40" width="77.10" height="36.90" fill="url(#g5)"/>
<g><line x1="412.5" y1="121.6" x2="412.5" y2="148.0" stroke="#fff" stroke-opacity="0.034" stroke-width="0.9"/><line x1="407.1" y1="123.0" x2="407.1" y2="145.4" stroke="#000" stroke-opacity="0.058" stroke-width="0.6"/><line x1="454.8" y1="120.5" x2="454.8" y2="150.8" stroke="#000" stroke-opacity="0.034" stroke-width="1.6"/><line x1="441.8" y1="126.3" x2="441.8" y2="148.8" stroke="#000" stroke-opacity="0.051" stroke-width="1.0"/><line x1="444.7" y1="128.7" x2="444.7" y2="153.0" stroke="#fff" stroke-opacity="0.036" stroke-width="1.4"/><line x1="431.1" y1="122.1" x2="431.1" y2="153.6" stroke="#fff" stroke-opacity="0.040" stroke-width="0.9"/><line x1="400.0" y1="123.8" x2="400.0" y2="145.3" stroke="#fff" stroke-opacity="0.046" stroke-width="1.5"/><line x1="426.6" y1="130.4" x2="426.6" y2="155.2" stroke="#fff" stroke-opacity="0.063" stroke-width="0.8"/><line x1="424.2" y1="119.8" x2="424.2" y2="153.0" stroke="#fff" stroke-opacity="0.076" stroke-width="1.4"/><line x1="397.5" y1="129.7" x2="397.5" y2="152.2" stroke="#fff" stroke-opacity="0.059" stroke-width="0.7"/><line x1="453.5" y1="129.9" x2="453.5" y2="155.1" stroke="#000" stroke-opacity="0.069" stroke-width="1.0"/><line x1="433.3" y1="121.0" x2="433.3" y2="154.0" stroke="#000" stroke-opacity="0.048" stroke-width="1.2"/><line x1="407.6" y1="119.5" x2="407.6" y2="152.7" stroke="#fff" stroke-opacity="0.040" stroke-width="1.2"/><line x1="439.4" y1="128.2" x2="439.4" y2="150.2" stroke="#000" stroke-opacity="0.040" stroke-width="0.7"/><line x1="393.3" y1="126.5" x2="393.3" y2="155.3" stroke="#000" stroke-opacity="0.058" stroke-width="0.6"/><line x1="400.8" y1="122.8" x2="400.8" y2="145.7" stroke="#000" stroke-opacity="0.044" stroke-width="1.3"/><line x1="412.0" y1="129.0" x2="412.0" y2="145.3" stroke="#000" stroke-opacity="0.051" stroke-width="1.1"/><line x1="415.8" y1="119.5" x2="415.8" y2="146.3" stroke="#fff" stroke-opacity="0.040" stroke-width="0.7"/><line x1="420.3" y1="124.5" x2="420.3" y2="154.5" stroke="#000" stroke-opacity="0.074" stroke-width="1.4"/><line x1="389.6" y1="120.4" x2="389.6" y2="149.4" stroke="#fff" stroke-opacity="0.075" stroke-width="1.1"/><line x1="416.4" y1="125.2" x2="416.4" y2="146.1" stroke="#000" stroke-opacity="0.044" stroke-width="1.1"/><line x1="396.7" y1="121.6" x2="396.7" y2="154.9" stroke="#fff" stroke-opacity="0.078" stroke-width="1.0"/></g>
<defs><linearGradient id="g6" x1="0" y1="0" x2="1" y2="0"><stop offset="0" stop-color="#c2c2c2"/><stop offset="0.5" stop-color="#cacaca"/><stop offset="1" stop-color="#bcbcbc"/></linearGradient></defs>
<rect x="464.60" y="119.40" width="77.50" height="36.90" fill="url(#g6)"/>
<g><line x1="536.8" y1="129.7" x2="536.8" y2="152.0" stroke="#000" stroke-opacity="0.033" stroke-width="1.6"/><line x1="533.9" y1="128.1" x2="533.9" y2="153.8" stroke="#fff" stroke-opacity="0.038" stroke-width="1.2"/><line x1="496.1" y1="121.8" x2="496.1" y2="151.9" stroke="#fff" stroke-opacity="0.039" stroke-width="1.4"/><line x1="504.7" y1="127.4" x2="504.7" y2="146.4" stroke="#000" stroke-opacity="0.042" stroke-width="0.9"/><line x1="468.7" y1="128.7" x2="468.7" y2="155.0" stroke="#fff" stroke-opacity="0.032" stroke-width="1.1"/><line x1="510.9" y1="124.1" x2="510.9" y2="149.9" stroke="#fff" stroke-opacity="0.045" stroke-width="1.1"/><line x1="497.7" y1="119.7" x2="497.7" y2="149.4" stroke="#000" stroke-opacity="0.052" stroke-width="1.2"/><line x1="502.6" y1="124.5" x2="502.6" y2="154.3" stroke="#fff" stroke-opacity="0.069" stroke-width="0.8"/><line x1="501.3" y1="120.4" x2="501.3" y2="151.4" stroke="#000" stroke-opacity="0.052" stroke-width="0.6"/><line x1="504.1" y1="127.5" x2="504.1" y2="147.7" stroke="#fff" stroke-opacity="0.034" stroke-width="0.5"/><line x1="504.2" y1="129.9" x2="504.2" y2="154.8" stroke="#fff" stroke-opacity="0.049" stroke-width="0.6"/><line x1="530.3" y1="121.5" x2="530.3" y2="145.4" stroke="#fff" stroke-opacity="0.071" stroke-width="1.6"/><line x1="502.7" y1="128.1" x2="502.7" y2="146.0" stroke="#fff" stroke-opacity="0.038" stroke-width="1.6"/><line x1="470.5" y1="129.3" x2="470.5" y2="153.3" stroke="#fff" stroke-opacity="0.038" stroke-width="0.9"/><line x1="527.2" y1="121.7" x2="527.2" y2="153.4" stroke="#fff" stroke-opacity="0.076" stroke-width="0.7"/><line x1="503.8" y1="121.2" x2="503.8" y2="145.9" stroke="#000" stroke-opacity="0.039" stroke-width="0.9"/><line x1="516.9" y1="120.7" x2="516.9" y2="150.4" stroke="#000" stroke-opacity="0.069" stroke-width="1.5"/><line x1="513.6" y1="125.8" x2="513.6" y2="146.5" stroke="#fff" stroke-opacity="0.058" stroke-width="0.9"/><line x1="473.5" y1="128.2" x2="473.5" y2="153.4" stroke="#fff" stroke-opacity="0.050" stroke-width="1.6"/><line x1="540.4" y1="124.3" x2="540.4" y2="154.3" stroke="#000" stroke-opacity="0.068" stroke-width="1.1"/><line x1="521.7" y1="126.5" x2="521.7" y2="145.4" stroke="#fff" stroke-opacity="0.043" stroke-width="0.6"/><line x1="509.8" y1="119.8" x2="509.8" y2="154.6" stroke="#000" stroke-opacity="0.030" stroke-width="1.2"/></g>
<path d="M325.8,128.4 L373,128.4 M327.3,144.9 L372,144.9" stroke="#8c8c8c" stroke-width="0.8"/>
<path d="M325.8,128.7 L337.8,128.7 A6.7,7.6 0 0 1 337.8,143.9 L327.3,143.9" stroke="#262626" fill="none" stroke-width="1.3"/>
<path d="M373,128.7 L360.2,128.7 A6.7,7.6 0 0 0 360.2,143.9 L372,143.9" stroke="#262626" fill="none" stroke-width="1.3"/>
<line x1="375.50" y1="151.90" x2="383.60" y2="151.90" stroke="#0e0e0e" stroke-width="1.8"/>
<path d="M393.5,128.3 L455,128.3 M394,145.6 L455,145.6" stroke="#8c8c8c" stroke-width="0.8"/>
<path d="M405.6,129.3 L415,129.3 A7.7,7.1 0 0 1 415,143.5 L394,143.5" fill="#dcdcdc" stroke="none"/>
<path d="M405.6,129.3 L415,129.3 A7.7,7.1 0 0 1 415,143.5 L394,143.5" stroke="#262626" fill="none" stroke-width="1.3"/>
<path d="M455.4,129.3 L439,129.3 A8,7.3 0 0 0 439,143.9 L454.4,143.9" stroke="#262626" fill="none" stroke-width="1.3"/>
<path d="M401,144.4 L414,144.4" stroke="#333" stroke-width="1.4"/>
<line x1="455.00" y1="151.30" x2="462.80" y2="151.30" stroke="#0e0e0e" stroke-width="1.8"/>
<path d="M470.3,128.4 L535.8,128.4 M473.4,144.4 L531.7,144.4" stroke="#8c8c8c" stroke-width="0.8"/>
<path d="M470.3,129.2 L491.2,129.2 A7,6.9 0 0 1 491.2,143 L473.4,143" stroke="#262626" fill="none" stroke-width="1.3"/>
<path d="M535.8,128.6 L514,128.6 A7.3,7.2 0 0 0 514,143 L531.7,143" stroke="#262626" fill="none" stroke-width="1.3"/>
<line x1="529.60" y1="152.20" x2="537.90" y2="152.20" stroke="#0e0e0e" stroke-width="1.8"/>
<rect x="310.60" y="119.40" width="231.50" height="36.90" fill="none" stroke="#2a2a2a" stroke-width="1.3"/>
<line x1="387.50" y1="119.40" x2="387.50" y2="156.30" stroke="#1a1a1a" stroke-width="1.4"/>
<line x1="464.60" y1="119.40" x2="464.60" y2="156.30" stroke="#1a1a1a" stroke-width="1.4"/>
<text x="314.10" y="129.20" font-size="9.8" fill="#111">P7</text>
<text x="392.20" y="129.10" font-size="9.8" fill="#111">P8</text>
<text x="469.80" y="129.00" font-size="9.8" fill="#111">P9</text>
<defs><linearGradient id="g7" x1="0" y1="0" x2="1" y2="0"><stop offset="0" stop-color="#ababab"/><stop offset="0.5" stop-color="#b5b5b5"/><stop offset="1" stop-color="#aeaeae"/></linearGradient></defs>
<rect x="547.20" y="119.50" width="78.00" height="36.50" fill="url(#g7)"/>
<g><line x1="595.0" y1="120.9" x2="595.0" y2="153.5" stroke="#fff" stroke-opacity="0.075" stroke-width="1.0"/><line x1="597.8" y1="120.7" x2="597.8" y2="152.1" stroke="#000" stroke-opacity="0.048" stroke-width="0.5"/><line x1="565.2" y1="126.3" x2="565.2" y2="150.8" stroke="#fff" stroke-opacity="0.040" stroke-width="1.1"/><line x1="558.4" y1="120.5" x2="558.4" y2="149.0" stroke="#000" stroke-opacity="0.037" stroke-width="1.5"/><line x1="614.4" y1="119.6" x2="614.4" y2="148.9" stroke="#000" stroke-opacity="0.043" stroke-width="1.4"/><line x1="590.9" y1="129.8" x2="590.9" y2="148.0" stroke="#fff" stroke-opacity="0.052" stroke-width="0.9"/><line x1="567.1" y1="123.9" x2="567.1" y2="153.4" stroke="#000" stroke-opacity="0.057" stroke-width="1.5"/><line x1="552.6" y1="129.8" x2="552.6" y2="154.4" stroke="#000" stroke-opacity="0.058" stroke-width="1.4"/><line x1="563.4" y1="128.4" x2="563.4" y2="154.1" stroke="#fff" stroke-opacity="0.062" stroke-width="1.2"/><line x1="571.7" y1="128.1" x2="571.7" y2="148.2" stroke="#000" stroke-opacity="0.074" stroke-width="0.8"/><line x1="548.7" y1="127.6" x2="548.7" y2="151.0" stroke="#fff" stroke-opacity="0.053" stroke-width="1.4"/><line x1="565.4" y1="123.2" x2="565.4" y2="147.8" stroke="#000" stroke-opacity="0.032" stroke-width="0.6"/><line x1="601.0" y1="125.6" x2="601.0" y2="151.2" stroke="#fff" stroke-opacity="0.043" stroke-width="1.4"/><line x1="608.1" y1="130.1" x2="608.1" y2="153.6" stroke="#000" stroke-opacity="0.062" stroke-width="1.1"/><line x1="615.1" y1="127.6" x2="615.1" y2="145.7" stroke="#000" stroke-opacity="0.042" stroke-width="0.5"/><line x1="604.9" y1="122.1" x2="604.9" y2="146.1" stroke="#fff" stroke-opacity="0.046" stroke-width="0.9"/><line x1="596.1" y1="124.6" x2="596.1" y2="146.8" stroke="#fff" stroke-opacity="0.079" stroke-width="1.3"/><line x1="601.2" y1="125.7" x2="601.2" y2="152.6" stroke="#000" stroke-opacity="0.066" stroke-width="1.4"/><line x1="564.3" y1="121.1" x2="564.3" y2="155.7" stroke="#000" stroke-opacity="0.076" stroke-width="1.2"/><line x1="556.3" y1="119.8" x2="556.3" y2="155.5" stroke="#000" stroke-opacity="0.037" stroke-width="1.5"/><line x1="600.8" y1="120.2" x2="600.8" y2="149.5" stroke="#fff" stroke-opacity="0.067" stroke-width="1.2"/><line x1="575.8" y1="120.2" x2="575.8" y2="146.5" stroke="#fff" stroke-opacity="0.075" stroke-width="1.4"/></g>
<defs><linearGradient id="g8" x1="0" y1="0" x2="0" y2="1"><stop offset="0" stop-color="#000000" stop-opacity="0.05"/><stop offset="0.55" stop-color="#000000" stop-opacity="0.0"/><stop offset="1" stop-color="#ffffff" stop-opacity="0.22"/></linearGradient></defs>
<rect x="547.20" y="119.50" width="78.00" height="36.50" fill="url(#g8)"/>
<defs><linearGradient id="g9" x1="0" y1="0" x2="1" y2="0"><stop offset="0" stop-color="#c4c4c4"/><stop offset="0.4" stop-color="#c8c8c8"/><stop offset="1" stop-color="#b4b4b4"/></linearGradient></defs>
<rect x="625.20" y="119.50" width="77.80" height="36.50" fill="url(#g9)"/>
<g><line x1="695.5" y1="120.7" x2="695.5" y2="155.6" stroke="#000" stroke-opacity="0.040" stroke-width="1.5"/><line x1="690.5" y1="126.4" x2="690.5" y2="152.9" stroke="#fff" stroke-opacity="0.071" stroke-width="1.4"/><line x1="633.8" y1="123.0" x2="633.8" y2="151.4" stroke="#fff" stroke-opacity="0.040" stroke-width="0.6"/><line x1="627.8" y1="123.5" x2="627.8" y2="152.5" stroke="#000" stroke-opacity="0.066" stroke-width="0.8"/><line x1="699.3" y1="119.8" x2="699.3" y2="151.5" stroke="#fff" stroke-opacity="0.061" stroke-width="1.1"/><line x1="659.3" y1="125.4" x2="659.3" y2="153.6" stroke="#000" stroke-opacity="0.065" stroke-width="1.4"/><line x1="691.6" y1="119.5" x2="691.6" y2="153.8" stroke="#fff" stroke-opacity="0.039" stroke-width="0.6"/><line x1="684.0" y1="124.9" x2="684.0" y2="147.3" stroke="#000" stroke-opacity="0.055" stroke-width="1.6"/><line x1="640.2" y1="122.4" x2="640.2" y2="145.7" stroke="#000" stroke-opacity="0.072" stroke-width="1.0"/><line x1="647.7" y1="120.7" x2="647.7" y2="149.0" stroke="#fff" stroke-opacity="0.055" stroke-width="0.7"/><line x1="632.3" y1="126.4" x2="632.3" y2="152.1" stroke="#fff" stroke-opacity="0.069" stroke-width="1.4"/><line x1="656.6" y1="129.2" x2="656.6" y2="155.7" stroke="#fff" stroke-opacity="0.034" stroke-width="0.9"/><line x1="641.8" y1="123.7" x2="641.8" y2="146.3" stroke="#fff" stroke-opacity="0.055" stroke-width="0.8"/><line x1="643.9" y1="127.7" x2="643.9" y2="148.9" stroke="#fff" stroke-opacity="0.068" stroke-width="1.0"/><line x1="652.6" y1="126.7" x2="652.6" y2="147.9" stroke="#000" stroke-opacity="0.072" stroke-width="0.9"/><line x1="639.1" y1="120.9" x2="639.1" y2="150.9" stroke="#fff" stroke-opacity="0.059" stroke-width="1.0"/><line x1="693.3" y1="127.2" x2="693.3" y2="146.8" stroke="#000" stroke-opacity="0.045" stroke-width="0.8"/><line x1="637.9" y1="125.2" x2="637.9" y2="154.2" stroke="#000" stroke-opacity="0.046" stroke-width="0.7"/><line x1="651.1" y1="120.6" x2="651.1" y2="145.5" stroke="#fff" stroke-opacity="0.066" stroke-width="0.7"/><line x1="633.9" y1="127.5" x2="633.9" y2="151.2" stroke="#fff" stroke-opacity="0.070" stroke-width="0.9"/><line x1="641.1" y1="123.8" x2="641.1" y2="155.6" stroke="#000" stroke-opacity="0.040" stroke-width="1.2"/><line x1="656.4" y1="126.4" x2="656.4" y2="150.9" stroke="#fff" stroke-opacity="0.055" stroke-width="1.4"/></g>
<defs><linearGradient id="g10" x1="0" y1="0" x2="1" y2="0"><stop offset="0" stop-color="#c2c2c2"/><stop offset="0.6" stop-color="#bcbcbc"/><stop offset="1" stop-color="#9c9c9c"/></linearGradient></defs>
<rect x="703.00" y="119.50" width="77.40" height="36.50" fill="url(#g10)"/>
<g><line x1="714.7" y1="129.4" x2="714.7" y2="151.3" stroke="#000" stroke-opacity="0.067" stroke-width="1.2"/><line x1="747.3" y1="127.4" x2="747.3" y2="146.4" stroke="#000" stroke-opacity="0.041" stroke-width="1.3"/><line x1="762.4" y1="126.5" x2="762.4" y2="151.0" stroke="#fff" stroke-opacity="0.064" stroke-width="1.3"/><line x1="727.6" y1="128.1" x2="727.6" y2="148.2" stroke="#000" stroke-opacity="0.051" stroke-width="1.2"/><line x1="751.5" y1="126.3" x2="751.5" y2="151.5" stroke="#000" stroke-opacity="0.053" stroke-width="0.8"/><line x1="754.9" y1="128.0" x2="754.9" y2="151.7" stroke="#000" stroke-opacity="0.063" stroke-width="1.5"/><line x1="740.9" y1="121.3" x2="740.9" y2="147.4" stroke="#000" stroke-opacity="0.057" stroke-width="1.6"/><line x1="774.9" y1="125.4" x2="774.9" y2="148.1" stroke="#000" stroke-opacity="0.059" stroke-width="1.1"/><line x1="742.6" y1="124.0" x2="742.6" y2="145.6" stroke="#fff" stroke-opacity="0.056" stroke-width="1.2"/><line x1="719.8" y1="120.8" x2="719.8" y2="145.2" stroke="#000" stroke-opacity="0.068" stroke-width="1.3"/><line x1="730.8" y1="119.6" x2="730.8" y2="151.4" stroke="#000" stroke-opacity="0.050" stroke-width="0.6"/><line x1="735.7" y1="122.0" x2="735.7" y2="147.9" stroke="#000" stroke-opacity="0.043" stroke-width="1.3"/><line x1="774.9" y1="123.8" x2="774.9" y2="153.7" stroke="#000" stroke-opacity="0.070" stroke-width="1.1"/><line x1="713.7" y1="124.6" x2="713.7" y2="149.8" stroke="#fff" stroke-opacity="0.062" stroke-width="1.4"/><line x1="721.0" y1="128.5" x2="721.0" y2="147.1" stroke="#000" stroke-opacity="0.062" stroke-width="1.6"/><line x1="739.3" y1="128.6" x2="739.3" y2="152.1" stroke="#fff" stroke-opacity="0.036" stroke-width="0.8"/><line x1="768.1" y1="124.2" x2="768.1" y2="154.0" stroke="#000" stroke-opacity="0.043" stroke-width="0.8"/><line x1="704.2" y1="122.8" x2="704.2" y2="150.7" stroke="#000" stroke-opacity="0.042" stroke-width="1.3"/><line x1="736.3" y1="129.7" x2="736.3" y2="146.6" stroke="#fff" stroke-opacity="0.048" stroke-width="1.2"/><line x1="708.3" y1="121.0" x2="708.3" y2="146.9" stroke="#fff" stroke-opacity="0.069" stroke-width="1.4"/><line x1="751.7" y1="126.7" x2="751.7" y2="153.3" stroke="#000" stroke-opacity="0.078" stroke-width="0.5"/><line x1="711.7" y1="123.3" x2="711.7" y2="154.3" stroke="#000" stroke-opacity="0.069" stroke-width="0.7"/></g>
<line x1="556" y1="141.2" x2="618" y2="141.2" stroke="#8a8a8a" stroke-width="1"/>
<line x1="640" y1="143.9" x2="688" y2="143.9" stroke="#8a8a8a" stroke-width="1"/>
<line x1="716" y1="145.2" x2="760" y2="145.2" stroke="#8a8a8a" stroke-width="1"/>
<ellipse cx="567" cy="134.5" rx="16.8" ry="5.0" fill="#c9c9c9" fill-opacity="0.5" stroke="#4a4a4a" stroke-width="1.1"/>
<ellipse cx="606.3" cy="133.9" rx="17.1" ry="5.5" fill="#c9c9c9" fill-opacity="0.5" stroke="#4a4a4a" stroke-width="1.1"/>
<ellipse cx="643.9" cy="137" rx="17.8" ry="5.4" fill="#c9c9c9" fill-opacity="0.5" stroke="#4a4a4a" stroke-width="1.1"/>
<ellipse cx="684.4" cy="137.5" rx="17.7" ry="5.4" fill="#c9c9c9" fill-opacity="0.5" stroke="#4a4a4a" stroke-width="1.1"/>
<ellipse cx="721.4" cy="138" rx="17.2" ry="5.2" fill="#c9c9c9" fill-opacity="0.5" stroke="#4a4a4a" stroke-width="1.1"/>
<ellipse cx="760.5" cy="138.2" rx="17.3" ry="5.2" fill="#c9c9c9" fill-opacity="0.5" stroke="#4a4a4a" stroke-width="1.1"/>
<line x1="615.00" y1="151.30" x2="621.10" y2="151.30" stroke="#0e0e0e" stroke-width="1.8"/>
<line x1="692.20" y1="150.90" x2="699.00" y2="150.90" stroke="#0e0e0e" stroke-width="1.8"/>
<line x1="769.80" y1="150.20" x2="775.90" y2="150.20" stroke="#0e0e0e" stroke-width="1.8"/>
<rect x="547.20" y="119.50" width="233.20" height="36.50" fill="none" stroke="#2a2a2a" stroke-width="1.3"/>
<line x1="625.20" y1="119.50" x2="625.20" y2="156.00" stroke="#1a1a1a" stroke-width="1.4"/>
<line x1="703.00" y1="119.50" x2="703.00" y2="156.00" stroke="#1a1a1a" stroke-width="1.4"/>
<text x="551.40" y="129.30" font-size="9.8" fill="#111">P13</text>
<text x="630.80" y="129.30" font-size="9.8" fill="#111">P14</text>
<text x="710.10" y="129.40" font-size="9.8" fill="#111">P15</text>
<defs><linearGradient id="g11" x1="0" y1="0" x2="1" y2="0"><stop offset="0" stop-color="#cdcdcd"/><stop offset="0.5" stop-color="#d2d2d2"/><stop offset="1" stop-color="#cccccc"/></linearGradient></defs>
<rect x="68.50" y="288.00" width="77.40" height="36.40" fill="url(#g11)"/>
<g><line x1="137.7" y1="294.6" x2="137.7" y2="315.9" stroke="#000" stroke-opacity="0.075" stroke-width="1.4"/><line x1="119.9" y1="290.2" x2="119.9" y2="316.8" stroke="#fff" stroke-opacity="0.072" stroke-width="1.5"/><line x1="109.5" y1="294.1" x2="109.5" y2="321.5" stroke="#000" stroke-opacity="0.074" stroke-width="1.3"/><line x1="87.2" y1="293.1" x2="87.2" y2="322.8" stroke="#000" stroke-opacity="0.033" stroke-width="0.7"/><line x1="106.5" y1="288.1" x2="106.5" y2="315.2" stroke="#fff" stroke-opacity="0.073" stroke-width="1.0"/><line x1="104.8" y1="292.1" x2="104.8" y2="319.8" stroke="#fff" stroke-opacity="0.072" stroke-width="1.1"/><line x1="141.9" y1="288.3" x2="141.9" y2="317.7" stroke="#fff" stroke-opacity="0.062" stroke-width="0.6"/><line x1="121.0" y1="293.6" x2="121.0" y2="319.1" stroke="#000" stroke-opacity="0.079" stroke-width="1.5"/><line x1="137.2" y1="291.7" x2="137.2" y2="315.0" stroke="#fff" stroke-opacity="0.061" stroke-width="0.5"/><line x1="97.1" y1="290.3" x2="97.1" y2="319.6" stroke="#fff" stroke-opacity="0.069" stroke-width="1.0"/><line x1="101.3" y1="297.0" x2="101.3" y2="320.0" stroke="#fff" stroke-opacity="0.045" stroke-width="1.1"/><line x1="107.5" y1="295.1" x2="107.5" y2="315.8" stroke="#fff" stroke-opacity="0.079" stroke-width="0.8"/><line x1="94.4" y1="294.9" x2="94.4" y2="315.8" stroke="#000" stroke-opacity="0.059" stroke-width="0.8"/><line x1="72.5" y1="288.5" x2="72.5" y2="321.1" stroke="#fff" stroke-opacity="0.057" stroke-width="1.3"/><line x1="70.0" y1="295.2" x2="70.0" y2="315.8" stroke="#fff" stroke-opacity="0.060" stroke-width="0.7"/><line x1="138.1" y1="295.6" x2="138.1" y2="317.9" stroke="#fff" stroke-opacity="0.061" stroke-width="1.2"/><line x1="120.8" y1="296.3" x2="120.8" y2="323.3" stroke="#fff" stroke-opacity="0.053" stroke-width="0.7"/><line x1="83.2" y1="295.2" x2="83.2" y2="320.4" stroke="#fff" stroke-opacity="0.076" stroke-width="0.5"/><line x1="131.5" y1="291.3" x2="131.5" y2="319.8" stroke="#fff" stroke-opacity="0.043" stroke-width="1.4"/><line x1="93.5" y1="288.6" x2="93.5" y2="318.2" stroke="#fff" stroke-opacity="0.077" stroke-width="1.0"/><line x1="72.5" y1="298.0" x2="72.5" y2="319.5" stroke="#fff" stroke-opacity="0.059" stroke-width="0.6"/><line x1="70.6" y1="298.7" x2="70.6" y2="319.2" stroke="#fff" stroke-opacity="0.077" stroke-width="0.9"/></g>
<defs><linearGradient id="g12" x1="0" y1="0" x2="1" y2="0"><stop offset="0" stop-color="#cccccc"/><stop offset="0.5" stop-color="#d3d3d3"/><stop offset="1" stop-color="#cecece"/></linearGradient></defs>
<rect x="145.90" y="288.00" width="76.80" height="36.40" fill="url(#g12)"/>
<g><line x1="177.7" y1="289.7" x2="177.7" y2="324.2" stroke="#fff" stroke-opacity="0.041" stroke-width="0.6"/><line x1="147.3" y1="289.0" x2="147.3" y2="314.9" stroke="#000" stroke-opacity="0.078" stroke-width="1.3"/><line x1="156.5" y1="296.0" x2="156.5" y2="322.4" stroke="#fff" stroke-opacity="0.042" stroke-width="0.5"/><line x1="150.7" y1="296.0" x2="150.7" y2="323.5" stroke="#fff" stroke-opacity="0.073" stroke-width="1.4"/><line x1="193.9" y1="290.8" x2="193.9" y2="313.9" stroke="#000" stroke-opacity="0.077" stroke-width="1.3"/><line x1="200.5" y1="296.9" x2="200.5" y2="323.5" stroke="#000" stroke-opacity="0.063" stroke-width="0.5"/><line x1="170.2" y1="293.3" x2="170.2" y2="323.7" stroke="#000" stroke-opacity="0.073" stroke-width="1.3"/><line x1="174.4" y1="289.6" x2="174.4" y2="315.7" stroke="#000" stroke-opacity="0.064" stroke-width="1.1"/><line x1="174.1" y1="292.2" x2="174.1" y2="315.8" stroke="#fff" stroke-opacity="0.051" stroke-width="1.2"/><line x1="217.6" y1="288.7" x2="217.6" y2="313.8" stroke="#fff" stroke-opacity="0.045" stroke-width="1.4"/><line x1="199.5" y1="298.7" x2="199.5" y2="315.3" stroke="#000" stroke-opacity="0.060" stroke-width="1.4"/><line x1="191.9" y1="292.1" x2="191.9" y2="316.9" stroke="#000" stroke-opacity="0.074" stroke-width="0.8"/><line x1="191.9" y1="288.0" x2="191.9" y2="321.5" stroke="#fff" stroke-opacity="0.044" stroke-width="1.5"/><line x1="178.5" y1="288.5" x2="178.5" y2="315.3" stroke="#fff" stroke-opacity="0.074" stroke-width="1.1"/><line x1="207.6" y1="297.3" x2="207.6" y2="315.6" stroke="#fff" stroke-opacity="0.044" stroke-width="1.5"/><line x1="198.1" y1="294.0" x2="198.1" y2="315.7" stroke="#000" stroke-opacity="0.034" stroke-width="1.5"/><line x1="161.9" y1="294.6" x2="161.9" y2="317.0" stroke="#fff" stroke-opacity="0.042" stroke-width="1.3"/><line x1="181.7" y1="296.6" x2="181.7" y2="319.4" stroke="#000" stroke-opacity="0.068" stroke-width="0.7"/><line x1="153.5" y1="294.3" x2="153.5" y2="314.6" stroke="#fff" stroke-opacity="0.042" stroke-width="1.4"/><line x1="213.1" y1="290.1" x2="213.1" y2="322.3" stroke="#000" stroke-opacity="0.059" stroke-width="1.1"/><line x1="160.4" y1="292.4" x2="160.4" y2="318.8" stroke="#000" stroke-opacity="0.058" stroke-width="1.3"/><line x1="158.0" y1="289.2" x2="158.0" y2="317.5" stroke="#fff" stroke-opacity="0.049" stroke-width="0.5"/></g>
<defs><linearGradient id="g13" x1="0" y1="0" x2="1" y2="0"><stop offset="0" stop-color="#cbcbcb"/><stop offset="0.5" stop-color="#d4d4d4"/><stop offset="1" stop-color="#d0d0d0"/></linearGradient></defs>
<rect x="222.70" y="288.00" width="77.80" height="36.40" fill="url(#g13)"/>
<g><line x1="283.4" y1="293.7" x2="283.4" y2="324.2" stroke="#fff" stroke-opacity="0.047" stroke-width="0.7"/><line x1="226.2" y1="294.2" x2="226.2" y2="321.5" stroke="#fff" stroke-opacity="0.054" stroke-width="1.6"/><line x1="282.8" y1="296.9" x2="282.8" y2="313.9" stroke="#fff" stroke-opacity="0.068" stroke-width="1.0"/><line x1="243.0" y1="288.9" x2="243.0" y2="323.8" stroke="#000" stroke-opacity="0.039" stroke-width="0.5"/><line x1="265.9" y1="297.9" x2="265.9" y2="323.7" stroke="#000" stroke-opacity="0.077" stroke-width="1.5"/><line x1="269.0" y1="290.8" x2="269.0" y2="318.2" stroke="#000" stroke-opacity="0.078" stroke-width="0.9"/><line x1="272.3" y1="292.9" x2="272.3" y2="322.7" stroke="#fff" stroke-opacity="0.050" stroke-width="1.6"/><line x1="296.9" y1="290.8" x2="296.9" y2="320.6" stroke="#000" stroke-opacity="0.032" stroke-width="1.6"/><line x1="292.1" y1="296.6" x2="292.1" y2="316.7" stroke="#fff" stroke-opacity="0.032" stroke-width="1.5"/><line x1="272.7" y1="296.2" x2="272.7" y2="314.1" stroke="#000" stroke-opacity="0.037" stroke-width="1.6"/><line x1="275.0" y1="289.2" x2="275.0" y2="320.9" stroke="#fff" stroke-opacity="0.068" stroke-width="0.8"/><line x1="243.2" y1="290.6" x2="243.2" y2="322.8" stroke="#000" stroke-opacity="0.038" stroke-width="0.6"/><line x1="275.1" y1="288.4" x2="275.1" y2="314.3" stroke="#fff" stroke-opacity="0.040" stroke-width="0.5"/><line x1="240.4" y1="289.5" x2="240.4" y2="319.5" stroke="#fff" stroke-opacity="0.074" stroke-width="1.5"/><line x1="231.1" y1="292.9" x2="231.1" y2="320.7" stroke="#fff" stroke-opacity="0.061" stroke-width="1.5"/><line x1="286.1" y1="290.4" x2="286.1" y2="323.8" stroke="#fff" stroke-opacity="0.037" stroke-width="1.0"/><line x1="277.8" y1="290.9" x2="277.8" y2="319.9" stroke="#000" stroke-opacity="0.074" stroke-width="1.1"/><line x1="235.5" y1="289.8" x2="235.5" y2="319.0" stroke="#fff" stroke-opacity="0.047" stroke-width="0.8"/><line x1="247.8" y1="288.6" x2="247.8" y2="314.6" stroke="#000" stroke-opacity="0.079" stroke-width="1.5"/><line x1="274.4" y1="290.8" x2="274.4" y2="322.2" stroke="#000" stroke-opacity="0.044" stroke-width="0.7"/><line x1="251.3" y1="289.1" x2="251.3" y2="321.2" stroke="#fff" stroke-opacity="0.076" stroke-width="1.6"/><line x1="291.6" y1="298.7" x2="291.6" y2="324.2" stroke="#fff" stroke-opacity="0.045" stroke-width="0.6"/></g>
<path d="M95.2,293.1 L94.5,313.5 Q94,316.8 97,316.8 L121.5,317 Q124.4,317 124.2,313.8 L122.3,293.6" fill="#d0d0d0" stroke="none"/>
<path d="M95.2,293.1 L94.5,313.5 Q94,316.8 97,316.8 L121.5,317 Q124.4,317 124.2,313.8 L122.3,293.6" stroke="#4a4a4a" fill="none" stroke-width="1.1" stroke-width="1.2"/>
<g stroke="#1e1e1e" stroke-width="1" fill="none"><polyline points="74.6,311.5 74.6,321 87.2,321"/></g>
<polygon points="73.1,312.2 74.6,309 76.1,312.2" fill="#1e1e1e"/><polygon points="86.6,319.4 90,321 86.6,322.6" fill="#1e1e1e"/>
<text x="77.4" y="313.4" font-size="9.6" fill="#1e1e1e">z</text><text x="85.6" y="315.4" font-size="9.6" fill="#1e1e1e">y</text>
<line x1="129.10" y1="320.40" x2="142.60" y2="320.40" stroke="#0e0e0e" stroke-width="1.8"/>
<path d="M166.8,296.2 C158,299.5 154.5,305 159,309.5 C163,313.5 168,316 172.4,317 L195.8,317 C201,315.5 207,312.5 210,309 C214,304 209,298 200.8,295.3" fill="#d0d0d0" stroke="none"/>
<path d="M166.8,296.2 C158,299.5 154.5,305 159,309.5 C163,313.5 168,316 172.4,317 L195.8,317 C201,315.5 207,312.5 210,309 C214,304 209,298 200.8,295.3" stroke="#1e1e1e" fill="none" stroke-width="1.4"/>
<line x1="205.40" y1="319.50" x2="218.90" y2="319.50" stroke="#0e0e0e" stroke-width="1.8"/>
<path d="M250.4,296.7 C240,298.5 232,301 233.2,304.3 C236,309 252,313 262.1,317 C275,312 290,309 292,303.8 C293,300 282,297 272.3,295.6" fill="#d0d0d0" stroke="none"/>
<path d="M250.4,296.7 C240,298.5 232,301 233.2,304.3 C236,309 252,313 262.1,317 C275,312 290,309 292,303.8 C293,300 282,297 272.3,295.6" stroke="#1e1e1e" fill="none" stroke-width="1.4"/>
<line x1="283.90" y1="319.70" x2="297.30" y2="319.70" stroke="#0e0e0e" stroke-width="1.8"/>
<rect x="68.50" y="288.00" width="232.00" height="36.40" fill="none" stroke="#2a2a2a" stroke-width="1.3"/>
<line x1="145.90" y1="288.00" x2="145.90" y2="324.40" stroke="#1a1a1a" stroke-width="1.4"/>
<line x1="222.70" y1="288.00" x2="222.70" y2="324.40" stroke="#1a1a1a" stroke-width="1.4"/>
<text x="73.60" y="297.50" font-size="9.8" fill="#111">P0</text>
<text x="152.10" y="297.50" font-size="9.8" fill="#111">P1</text>
<text x="229.10" y="297.50" font-size="9.8" fill="#111">P2</text>
<defs><linearGradient id="g14" x1="0" y1="0" x2="1" y2="0"><stop offset="0" stop-color="#c8c8c8"/><stop offset="0.5" stop-color="#d2d2d2"/><stop offset="1" stop-color="#cbcbcb"/></linearGradient></defs>
<rect x="309.50" y="288.00" width="76.90" height="36.40" fill="url(#g14)"/>
<g><line x1="370.9" y1="297.1" x2="370.9" y2="318.6" stroke="#000" stroke-opacity="0.030" stroke-width="0.9"/><line x1="324.4" y1="294.2" x2="324.4" y2="322.9" stroke="#fff" stroke-opacity="0.041" stroke-width="1.0"/><line x1="324.0" y1="288.9" x2="324.0" y2="323.4" stroke="#fff" stroke-opacity="0.040" stroke-width="1.3"/><line x1="356.1" y1="294.7" x2="356.1" y2="316.7" stroke="#000" stroke-opacity="0.040" stroke-width="1.0"/><line x1="371.3" y1="296.0" x2="371.3" y2="319.9" stroke="#000" stroke-opacity="0.033" stroke-width="1.1"/><line x1="364.6" y1="297.2" x2="364.6" y2="315.0" stroke="#fff" stroke-opacity="0.047" stroke-width="0.6"/><line x1="347.4" y1="297.5" x2="347.4" y2="321.5" stroke="#fff" stroke-opacity="0.054" stroke-width="0.5"/><line x1="324.4" y1="292.1" x2="324.4" y2="317.9" stroke="#000" stroke-opacity="0.038" stroke-width="1.4"/><line x1="310.8" y1="289.3" x2="310.8" y2="316.6" stroke="#000" stroke-opacity="0.056" stroke-width="1.1"/><line x1="371.7" y1="292.2" x2="371.7" y2="316.2" stroke="#000" stroke-opacity="0.066" stroke-width="1.5"/><line x1="315.1" y1="293.6" x2="315.1" y2="318.6" stroke="#fff" stroke-opacity="0.055" stroke-width="1.5"/><line x1="350.7" y1="290.0" x2="350.7" y2="323.3" stroke="#fff" stroke-opacity="0.041" stroke-width="0.5"/><line x1="329.3" y1="295.6" x2="329.3" y2="322.3" stroke="#000" stroke-opacity="0.035" stroke-width="1.4"/><line x1="311.8" y1="295.7" x2="311.8" y2="323.3" stroke="#fff" stroke-opacity="0.056" stroke-width="1.2"/><line x1="375.6" y1="293.4" x2="375.6" y2="318.9" stroke="#000" stroke-opacity="0.036" stroke-width="1.3"/><line x1="331.4" y1="294.5" x2="331.4" y2="315.0" stroke="#000" stroke-opacity="0.037" stroke-width="0.6"/><line x1="321.5" y1="297.0" x2="321.5" y2="314.2" stroke="#fff" stroke-opacity="0.038" stroke-width="1.1"/><line x1="339.6" y1="292.3" x2="339.6" y2="314.1" stroke="#fff" stroke-opacity="0.056" stroke-width="1.0"/><line x1="368.7" y1="292.8" x2="368.7" y2="313.7" stroke="#000" stroke-opacity="0.047" stroke-width="0.9"/><line x1="370.7" y1="288.6" x2="370.7" y2="318.8" stroke="#fff" stroke-opacity="0.072" stroke-width="1.5"/><line x1="382.2" y1="294.9" x2="382.2" y2="320.4" stroke="#000" stroke-opacity="0.051" stroke-width="1.5"/><line x1="350.3" y1="288.2" x2="350.3" y2="322.9" stroke="#000" stroke-opacity="0.055" stroke-width="0.6"/></g>
<defs><linearGradient id="g15" x1="0" y1="0" x2="1" y2="0"><stop offset="0" stop-color="#d0d0d0"/><stop offset="0.5" stop-color="#d7d7d7"/><stop offset="1" stop-color="#cdcdcd"/></linearGradient></defs>
<rect x="386.40" y="288.00" width="78.00" height="36.40" fill="url(#g15)"/>
<g><line x1="461.1" y1="296.8" x2="461.1" y2="314.7" stroke="#fff" stroke-opacity="0.062" stroke-width="1.4"/><line x1="454.6" y1="295.4" x2="454.6" y2="321.4" stroke="#fff" stroke-opacity="0.043" stroke-width="0.5"/><line x1="428.6" y1="293.7" x2="428.6" y2="319.7" stroke="#fff" stroke-opacity="0.043" stroke-width="1.5"/><line x1="459.7" y1="289.3" x2="459.7" y2="317.9" stroke="#000" stroke-opacity="0.062" stroke-width="0.8"/><line x1="460.1" y1="293.8" x2="460.1" y2="322.8" stroke="#000" stroke-opacity="0.053" stroke-width="1.1"/><line x1="396.8" y1="291.1" x2="396.8" y2="321.7" stroke="#000" stroke-opacity="0.050" stroke-width="0.6"/><line x1="394.1" y1="294.2" x2="394.1" y2="317.3" stroke="#fff" stroke-opacity="0.060" stroke-width="1.1"/><line x1="402.7" y1="294.7" x2="402.7" y2="319.3" stroke="#000" stroke-opacity="0.057" stroke-width="1.3"/><line x1="411.0" y1="292.2" x2="411.0" y2="318.0" stroke="#000" stroke-opacity="0.056" stroke-width="0.8"/><line x1="388.3" y1="294.1" x2="388.3" y2="319.0" stroke="#fff" stroke-opacity="0.042" stroke-width="0.9"/><line x1="409.0" y1="289.7" x2="409.0" y2="323.7" stroke="#000" stroke-opacity="0.069" stroke-width="1.6"/><line x1="453.6" y1="292.8" x2="453.6" y2="316.4" stroke="#000" stroke-opacity="0.049" stroke-width="1.0"/><line x1="395.7" y1="289.7" x2="395.7" y2="320.7" stroke="#fff" stroke-opacity="0.067" stroke-width="0.7"/><line x1="414.2" y1="297.0" x2="414.2" y2="318.7" stroke="#fff" stroke-opacity="0.072" stroke-width="1.2"/><line x1="443.5" y1="296.6" x2="443.5" y2="316.7" stroke="#fff" stroke-opacity="0.054" stroke-width="1.3"/><line x1="456.9" y1="296.4" x2="456.9" y2="318.0" stroke="#fff" stroke-opacity="0.030" stroke-width="0.6"/><line x1="425.2" y1="296.6" x2="425.2" y2="314.9" stroke="#fff" stroke-opacity="0.051" stroke-width="1.6"/><line x1="433.6" y1="295.9" x2="433.6" y2="321.2" stroke="#000" stroke-opacity="0.053" stroke-width="0.9"/><line x1="417.1" y1="296.6" x2="417.1" y2="315.1" stroke="#000" stroke-opacity="0.046" stroke-width="1.1"/><line x1="425.4" y1="289.6" x2="425.4" y2="318.1" stroke="#000" stroke-opacity="0.045" stroke-width="1.0"/><line x1="431.6" y1="297.2" x2="431.6" y2="315.2" stroke="#fff" stroke-opacity="0.046" stroke-width="0.6"/><line x1="460.3" y1="288.1" x2="460.3" y2="323.9" stroke="#000" stroke-opacity="0.076" stroke-width="0.7"/></g>
<defs><linearGradient id="g16" x1="0" y1="0" x2="1" y2="0"><stop offset="0" stop-color="#cdcdcd"/><stop offset="0.5" stop-color="#d5d5d5"/><stop offset="1" stop-color="#cdcdcd"/></linearGradient></defs>
<rect x="464.40" y="288.00" width="77.90" height="36.40" fill="url(#g16)"/>
<g><line x1="508.3" y1="293.9" x2="508.3" y2="313.5" stroke="#fff" stroke-opacity="0.069" stroke-width="1.0"/><line x1="504.7" y1="291.9" x2="504.7" y2="317.9" stroke="#fff" stroke-opacity="0.049" stroke-width="1.1"/><line x1="492.0" y1="289.1" x2="492.0" y2="320.3" stroke="#fff" stroke-opacity="0.056" stroke-width="1.5"/><line x1="495.8" y1="298.5" x2="495.8" y2="319.1" stroke="#fff" stroke-opacity="0.074" stroke-width="1.1"/><line x1="498.8" y1="293.8" x2="498.8" y2="315.5" stroke="#fff" stroke-opacity="0.047" stroke-width="1.2"/><line x1="478.4" y1="293.6" x2="478.4" y2="323.2" stroke="#fff" stroke-opacity="0.071" stroke-width="0.8"/><line x1="533.3" y1="297.7" x2="533.3" y2="319.8" stroke="#fff" stroke-opacity="0.080" stroke-width="1.3"/><line x1="477.3" y1="290.1" x2="477.3" y2="322.4" stroke="#fff" stroke-opacity="0.055" stroke-width="0.8"/><line x1="513.2" y1="295.0" x2="513.2" y2="323.9" stroke="#000" stroke-opacity="0.080" stroke-width="1.2"/><line x1="496.6" y1="288.0" x2="496.6" y2="321.1" stroke="#000" stroke-opacity="0.065" stroke-width="1.4"/><line x1="529.3" y1="293.4" x2="529.3" y2="318.4" stroke="#fff" stroke-opacity="0.040" stroke-width="1.1"/><line x1="485.6" y1="294.3" x2="485.6" y2="319.9" stroke="#fff" stroke-opacity="0.080" stroke-width="1.2"/><line x1="474.6" y1="289.1" x2="474.6" y2="322.5" stroke="#fff" stroke-opacity="0.035" stroke-width="0.7"/><line x1="505.1" y1="288.7" x2="505.1" y2="324.3" stroke="#fff" stroke-opacity="0.070" stroke-width="1.4"/><line x1="523.9" y1="289.9" x2="523.9" y2="321.5" stroke="#fff" stroke-opacity="0.048" stroke-width="0.9"/><line x1="472.9" y1="292.9" x2="472.9" y2="320.2" stroke="#fff" stroke-opacity="0.047" stroke-width="1.5"/><line x1="469.6" y1="292.8" x2="469.6" y2="317.6" stroke="#fff" stroke-opacity="0.078" stroke-width="1.5"/><line x1="484.3" y1="291.4" x2="484.3" y2="314.6" stroke="#fff" stroke-opacity="0.073" stroke-width="0.5"/><line x1="527.3" y1="293.4" x2="527.3" y2="314.0" stroke="#fff" stroke-opacity="0.078" stroke-width="0.8"/><line x1="483.8" y1="291.4" x2="483.8" y2="314.8" stroke="#fff" stroke-opacity="0.041" stroke-width="0.9"/><line x1="502.2" y1="291.9" x2="502.2" y2="322.4" stroke="#000" stroke-opacity="0.039" stroke-width="1.4"/><line x1="539.1" y1="293.8" x2="539.1" y2="320.2" stroke="#fff" stroke-opacity="0.036" stroke-width="0.8"/></g>
<path d="M347.6,301.2 C339.6,300.2 327.1,299.8 320.1,300.2 C316.1,300.7 316.1,306.0 320.1,306.5 C327.1,306.9 339.6,306.5 347.6,305.7 C355.6,306.5 370.3,306.9 377.3,306.5 C381.3,306.0 381.3,300.7 377.3,300.2 C370.3,299.8 355.6,300.2 347.6,301.2 Z" fill="#d8d8d8" stroke="#2e2e2e" stroke-width="1.1"/>
<path d="M347.6,305.7 L347.6,310.2" stroke="#333" stroke-width="1.1"/>
<path d="M423.4,303.2 C415.4,302.2 401.6,301.8 394.6,302.2 C390.6,302.7 390.6,308.7 394.6,309.2 C401.6,309.59999999999997 415.4,309.2 423.4,308.4 C431.4,309.2 447.9,309.59999999999997 454.9,309.2 C458.9,308.7 458.9,302.7 454.9,302.2 C447.9,301.8 431.4,302.2 423.4,303.2 Z" fill="#d8d8d8" stroke="#2e2e2e" stroke-width="1.1"/>
<path d="M423.4,308.4 L423.4,311.0" stroke="#333" stroke-width="1.1"/>
<path d="M502.5,302.1 C494.5,301.1 481.8,300.70000000000005 474.8,301.1 C470.8,301.6 470.8,306.8 474.8,307.3 C481.8,307.7 494.5,307.3 502.5,306.5 C510.5,307.3 526.4,307.7 533.4,307.3 C537.4,306.8 537.4,301.6 533.4,301.1 C526.4,300.70000000000005 510.5,301.1 502.5,302.1 Z" fill="#d8d8d8" stroke="#2e2e2e" stroke-width="1.1"/>
<path d="M502.5,306.5 L502.5,309.4" stroke="#333" stroke-width="1.1"/>
<line x1="372.20" y1="319.20" x2="381.60" y2="319.20" stroke="#0e0e0e" stroke-width="1.8"/>
<line x1="450.50" y1="319.40" x2="460.30" y2="319.40" stroke="#0e0e0e" stroke-width="1.8"/>
<line x1="528.00" y1="319.30" x2="537.70" y2="319.30" stroke="#0e0e0e" stroke-width="1.8"/>
<rect x="309.50" y="288.00" width="232.80" height="36.40" fill="none" stroke="#2a2a2a" stroke-width="1.3"/>
<line x1="386.40" y1="288.00" x2="386.40" y2="324.40" stroke="#1a1a1a" stroke-width="1.4"/>
<line x1="464.40" y1="288.00" x2="464.40" y2="324.40" stroke="#1a1a1a" stroke-width="1.4"/>
<text x="314.10" y="297.20" font-size="9.8" fill="#111">P7</text>
<text x="392.10" y="297.20" font-size="9.8" fill="#111">P8</text>
<text x="469.80" y="297.00" font-size="9.8" fill="#111">P9</text>
<defs><linearGradient id="g17" x1="0" y1="0" x2="1" y2="0"><stop offset="0" stop-color="#c7c7c7"/><stop offset="0.5" stop-color="#cecece"/><stop offset="1" stop-color="#c6c6c6"/></linearGradient></defs>
<rect x="547.10" y="287.90" width="77.70" height="36.50" fill="url(#g17)"/>
<g><line x1="578.6" y1="291.7" x2="578.6" y2="321.7" stroke="#000" stroke-opacity="0.071" stroke-width="0.6"/><line x1="562.6" y1="295.2" x2="562.6" y2="320.7" stroke="#000" stroke-opacity="0.032" stroke-width="0.8"/><line x1="559.9" y1="297.0" x2="559.9" y2="323.0" stroke="#000" stroke-opacity="0.043" stroke-width="1.3"/><line x1="581.7" y1="291.8" x2="581.7" y2="316.5" stroke="#fff" stroke-opacity="0.038" stroke-width="1.4"/><line x1="576.6" y1="293.4" x2="576.6" y2="321.9" stroke="#000" stroke-opacity="0.078" stroke-width="1.6"/><line x1="582.4" y1="297.8" x2="582.4" y2="318.0" stroke="#fff" stroke-opacity="0.043" stroke-width="0.6"/><line x1="576.0" y1="297.5" x2="576.0" y2="323.1" stroke="#fff" stroke-opacity="0.041" stroke-width="0.8"/><line x1="586.9" y1="292.1" x2="586.9" y2="317.2" stroke="#000" stroke-opacity="0.069" stroke-width="1.1"/><line x1="591.1" y1="289.8" x2="591.1" y2="315.1" stroke="#000" stroke-opacity="0.034" stroke-width="0.8"/><line x1="572.4" y1="291.9" x2="572.4" y2="318.9" stroke="#000" stroke-opacity="0.058" stroke-width="1.2"/><line x1="570.6" y1="289.3" x2="570.6" y2="316.6" stroke="#000" stroke-opacity="0.041" stroke-width="0.6"/><line x1="569.5" y1="297.6" x2="569.5" y2="315.0" stroke="#fff" stroke-opacity="0.069" stroke-width="0.9"/><line x1="558.1" y1="295.2" x2="558.1" y2="320.6" stroke="#000" stroke-opacity="0.064" stroke-width="0.8"/><line x1="579.3" y1="297.2" x2="579.3" y2="320.5" stroke="#fff" stroke-opacity="0.042" stroke-width="1.2"/><line x1="595.7" y1="295.9" x2="595.7" y2="316.6" stroke="#000" stroke-opacity="0.076" stroke-width="0.7"/><line x1="551.2" y1="291.2" x2="551.2" y2="320.2" stroke="#000" stroke-opacity="0.040" stroke-width="0.5"/><line x1="551.1" y1="297.1" x2="551.1" y2="318.2" stroke="#fff" stroke-opacity="0.039" stroke-width="0.8"/><line x1="602.3" y1="291.7" x2="602.3" y2="324.4" stroke="#000" stroke-opacity="0.064" stroke-width="0.8"/><line x1="611.3" y1="297.3" x2="611.3" y2="317.7" stroke="#000" stroke-opacity="0.032" stroke-width="1.4"/><line x1="551.7" y1="290.2" x2="551.7" y2="314.4" stroke="#000" stroke-opacity="0.070" stroke-width="0.8"/><line x1="604.8" y1="296.1" x2="604.8" y2="315.3" stroke="#fff" stroke-opacity="0.050" stroke-width="0.6"/><line x1="569.4" y1="298.1" x2="569.4" y2="316.8" stroke="#fff" stroke-opacity="0.051" stroke-width="0.6"/></g>
<defs><linearGradient id="g18" x1="0" y1="0" x2="1" y2="0"><stop offset="0" stop-color="#c6c6c6"/><stop offset="0.5" stop-color="#cdcdcd"/><stop offset="1" stop-color="#c6c6c6"/></linearGradient></defs>
<rect x="624.80" y="287.90" width="77.90" height="36.50" fill="url(#g18)"/>
<g><line x1="681.9" y1="288.5" x2="681.9" y2="316.8" stroke="#fff" stroke-opacity="0.053" stroke-width="1.4"/><line x1="658.3" y1="296.2" x2="658.3" y2="323.9" stroke="#fff" stroke-opacity="0.036" stroke-width="1.1"/><line x1="679.1" y1="298.5" x2="679.1" y2="317.4" stroke="#000" stroke-opacity="0.057" stroke-width="1.4"/><line x1="667.1" y1="292.4" x2="667.1" y2="322.2" stroke="#000" stroke-opacity="0.048" stroke-width="0.8"/><line x1="649.4" y1="290.5" x2="649.4" y2="321.8" stroke="#fff" stroke-opacity="0.064" stroke-width="0.7"/><line x1="664.9" y1="291.2" x2="664.9" y2="314.7" stroke="#fff" stroke-opacity="0.048" stroke-width="1.0"/><line x1="636.6" y1="293.9" x2="636.6" y2="316.1" stroke="#000" stroke-opacity="0.071" stroke-width="1.1"/><line x1="638.6" y1="296.3" x2="638.6" y2="315.3" stroke="#fff" stroke-opacity="0.053" stroke-width="1.2"/><line x1="634.5" y1="288.6" x2="634.5" y2="321.3" stroke="#000" stroke-opacity="0.040" stroke-width="0.8"/><line x1="640.8" y1="291.5" x2="640.8" y2="319.3" stroke="#000" stroke-opacity="0.036" stroke-width="1.3"/><line x1="653.3" y1="298.8" x2="653.3" y2="316.2" stroke="#000" stroke-opacity="0.031" stroke-width="0.7"/><line x1="632.2" y1="289.1" x2="632.2" y2="319.0" stroke="#fff" stroke-opacity="0.058" stroke-width="1.3"/><line x1="658.8" y1="298.0" x2="658.8" y2="317.3" stroke="#fff" stroke-opacity="0.030" stroke-width="0.7"/><line x1="673.4" y1="290.6" x2="673.4" y2="322.9" stroke="#fff" stroke-opacity="0.043" stroke-width="1.5"/><line x1="627.9" y1="289.9" x2="627.9" y2="317.4" stroke="#fff" stroke-opacity="0.045" stroke-width="1.4"/><line x1="690.0" y1="297.0" x2="690.0" y2="316.3" stroke="#000" stroke-opacity="0.069" stroke-width="1.5"/><line x1="650.6" y1="291.9" x2="650.6" y2="318.4" stroke="#fff" stroke-opacity="0.046" stroke-width="0.7"/><line x1="653.8" y1="294.1" x2="653.8" y2="317.5" stroke="#000" stroke-opacity="0.032" stroke-width="1.4"/><line x1="688.0" y1="293.3" x2="688.0" y2="318.9" stroke="#fff" stroke-opacity="0.077" stroke-width="1.3"/><line x1="637.8" y1="295.4" x2="637.8" y2="322.6" stroke="#fff" stroke-opacity="0.034" stroke-width="0.8"/><line x1="659.4" y1="292.7" x2="659.4" y2="322.3" stroke="#000" stroke-opacity="0.032" stroke-width="1.6"/><line x1="680.7" y1="296.5" x2="680.7" y2="319.7" stroke="#fff" stroke-opacity="0.073" stroke-width="0.5"/></g>
<defs><linearGradient id="g19" x1="0" y1="0" x2="1" y2="0"><stop offset="0" stop-color="#c6c6c6"/><stop offset="0.5" stop-color="#cecece"/><stop offset="1" stop-color="#c4c4c4"/></linearGradient></defs>
<rect x="702.70" y="287.90" width="77.60" height="36.50" fill="url(#g19)"/>
<g><line x1="725.1" y1="291.6" x2="725.1" y2="319.6" stroke="#fff" stroke-opacity="0.051" stroke-width="1.2"/><line x1="754.1" y1="291.1" x2="754.1" y2="319.5" stroke="#fff" stroke-opacity="0.038" stroke-width="1.4"/><line x1="746.3" y1="291.4" x2="746.3" y2="319.4" stroke="#000" stroke-opacity="0.034" stroke-width="0.9"/><line x1="777.1" y1="298.4" x2="777.1" y2="317.6" stroke="#fff" stroke-opacity="0.079" stroke-width="1.5"/><line x1="765.0" y1="291.2" x2="765.0" y2="318.1" stroke="#fff" stroke-opacity="0.060" stroke-width="0.6"/><line x1="775.7" y1="291.7" x2="775.7" y2="314.7" stroke="#fff" stroke-opacity="0.045" stroke-width="1.0"/><line x1="705.8" y1="288.8" x2="705.8" y2="317.2" stroke="#fff" stroke-opacity="0.052" stroke-width="0.7"/><line x1="731.8" y1="294.1" x2="731.8" y2="320.1" stroke="#000" stroke-opacity="0.056" stroke-width="1.1"/><line x1="712.3" y1="289.1" x2="712.3" y2="315.0" stroke="#fff" stroke-opacity="0.057" stroke-width="0.7"/><line x1="722.9" y1="293.3" x2="722.9" y2="318.3" stroke="#fff" stroke-opacity="0.043" stroke-width="0.6"/><line x1="720.8" y1="294.3" x2="720.8" y2="323.5" stroke="#000" stroke-opacity="0.056" stroke-width="1.1"/><line x1="734.5" y1="293.9" x2="734.5" y2="316.6" stroke="#000" stroke-opacity="0.073" stroke-width="0.6"/><line x1="760.9" y1="289.0" x2="760.9" y2="315.3" stroke="#fff" stroke-opacity="0.066" stroke-width="0.6"/><line x1="733.3" y1="296.4" x2="733.3" y2="322.9" stroke="#fff" stroke-opacity="0.058" stroke-width="0.7"/><line x1="762.4" y1="288.1" x2="762.4" y2="317.9" stroke="#000" stroke-opacity="0.049" stroke-width="0.6"/><line x1="719.8" y1="297.6" x2="719.8" y2="317.6" stroke="#fff" stroke-opacity="0.051" stroke-width="0.8"/><line x1="769.6" y1="289.7" x2="769.6" y2="316.2" stroke="#fff" stroke-opacity="0.074" stroke-width="1.1"/><line x1="729.5" y1="289.2" x2="729.5" y2="320.3" stroke="#fff" stroke-opacity="0.071" stroke-width="1.3"/><line x1="759.4" y1="294.5" x2="759.4" y2="323.3" stroke="#fff" stroke-opacity="0.032" stroke-width="1.5"/><line x1="745.2" y1="295.3" x2="745.2" y2="321.6" stroke="#000" stroke-opacity="0.076" stroke-width="1.4"/><line x1="718.3" y1="289.1" x2="718.3" y2="324.2" stroke="#fff" stroke-opacity="0.059" stroke-width="1.0"/><line x1="712.0" y1="291.1" x2="712.0" y2="316.9" stroke="#000" stroke-opacity="0.058" stroke-width="1.4"/></g>
<path d="M569.5,303.3 C566.0,301 560.0,300.8 557.0,301.8 C553.5,303 554.0,306.3 557.5,307.1 C561.0,307.8 566.0,307 569.5,305.7 L586.6,305.3 L604.8,305.7 C608.0,307 613.0,307.8 617.0,307.1 C620.5,306.3 620.5,303 617.0,301.8 C613.0,300.8 608.0,301.2 604.8,303.4 L586.6,303.6 Z" fill="#d6d6d6" stroke="#3e3e3e" stroke-width="1"/>
<circle cx="586.6" cy="304.4" r="1.1" fill="#555"/>
<path d="M647.1999999999999,303.3 C643.6999999999999,301 637.6999999999999,300.8 634.6999999999999,301.8 C631.1999999999999,303 631.6999999999999,306.3 635.1999999999999,307.1 C638.6999999999999,307.8 643.6999999999999,307 647.1999999999999,305.7 L664.3,305.3 L682.4999999999999,305.7 C685.6999999999999,307 690.6999999999999,307.8 694.6999999999999,307.1 C698.1999999999999,306.3 698.1999999999999,303 694.6999999999999,301.8 C690.6999999999999,300.8 685.6999999999999,301.2 682.4999999999999,303.4 L664.3,303.6 Z" fill="#d6d6d6" stroke="#3e3e3e" stroke-width="1"/>
<circle cx="664.3" cy="304.4" r="1.1" fill="#555"/>
<path d="M725.1,303.3 C721.6,301 715.6,300.8 712.6,301.8 C709.1,303 709.6,306.3 713.1,307.1 C716.6,307.8 721.6,307 725.1,305.7 L742.2,305.3 L760.4,305.7 C763.6,307 768.6,307.8 772.6,307.1 C776.1,306.3 776.1,303 772.6,301.8 C768.6,300.8 763.6,301.2 760.4,303.4 L742.2,303.6 Z" fill="#d6d6d6" stroke="#3e3e3e" stroke-width="1"/>
<circle cx="742.2" cy="304.4" r="1.1" fill="#555"/>
<line x1="613.90" y1="319.20" x2="621.20" y2="319.20" stroke="#0e0e0e" stroke-width="1.8"/>
<line x1="691.50" y1="319.20" x2="698.80" y2="319.20" stroke="#0e0e0e" stroke-width="1.8"/>
<line x1="769.30" y1="319.20" x2="776.60" y2="319.20" stroke="#0e0e0e" stroke-width="1.8"/>
<rect x="547.10" y="287.90" width="233.20" height="36.50" fill="none" stroke="#2a2a2a" stroke-width="1.3"/>
<line x1="624.80" y1="287.90" x2="624.80" y2="324.40" stroke="#1a1a1a" stroke-width="1.4"/>
<line x1="702.70" y1="287.90" x2="702.70" y2="324.40" stroke="#1a1a1a" stroke-width="1.4"/>
<text x="551.80" y="297.50" font-size="9.8" fill="#111">P13</text>
<text x="629.50" y="297.50" font-size="9.8" fill="#111">P14</text>
<text x="707.40" y="297.50" font-size="9.8" fill="#111">P15</text>
<g stroke="#8e8e8e" stroke-width="1.1" stroke-dasharray="1.2 6.35" stroke-dashoffset="0.6" fill="none">
<line x1="85.34" y1="563.0" x2="85.34" y2="361.2"/>
<line x1="109.38" y1="563.0" x2="109.38" y2="361.2"/>
<line x1="133.41" y1="563.0" x2="133.41" y2="361.2"/>
<line x1="157.45" y1="563.0" x2="157.45" y2="361.2"/>
<line x1="181.49" y1="563.0" x2="181.49" y2="361.2"/>
<line x1="205.53" y1="563.0" x2="205.53" y2="361.2"/>
<line x1="229.56" y1="563.0" x2="229.56" y2="361.2"/>
<line x1="61.3" y1="533.89" x2="251.6" y2="533.89"/>
<line x1="61.3" y1="504.77" x2="251.6" y2="504.77"/>
<line x1="61.3" y1="475.66" x2="251.6" y2="475.66"/>
<line x1="61.3" y1="446.54" x2="251.6" y2="446.54"/>
<line x1="61.3" y1="417.43" x2="251.6" y2="417.43"/>
<line x1="61.3" y1="388.31" x2="251.6" y2="388.31"/>
</g>
<text x="61.50" y="576.8" font-size="11.5" fill="#1a1a1a" text-anchor="middle">0</text>
<text x="85.54" y="576.8" font-size="11.5" fill="#1a1a1a" text-anchor="middle">2</text>
<text x="109.58" y="576.8" font-size="11.5" fill="#1a1a1a" text-anchor="middle">4</text>
<text x="133.61" y="576.8" font-size="11.5" fill="#1a1a1a" text-anchor="middle">6</text>
<text x="157.65" y="576.8" font-size="11.5" fill="#1a1a1a" text-anchor="middle">8</text>
<text x="181.69" y="576.8" font-size="11.5" fill="#1a1a1a" text-anchor="middle">10</text>
<text x="205.73" y="576.8" font-size="11.5" fill="#1a1a1a" text-anchor="middle">12</text>
<text x="229.76" y="576.8" font-size="11.5" fill="#1a1a1a" text-anchor="middle">14</text>
<text x="253.80" y="576.8" font-size="11.5" fill="#1a1a1a" text-anchor="middle">16</text>
<text x="53.3" y="536.89" font-size="11.5" fill="#1a1a1a" text-anchor="end">0.8</text>
<text x="53.3" y="507.77" font-size="11.5" fill="#1a1a1a" text-anchor="end">1.0</text>
<text x="53.3" y="478.66" font-size="11.5" fill="#1a1a1a" text-anchor="end">1.2</text>
<text x="53.3" y="449.54" font-size="11.5" fill="#1a1a1a" text-anchor="end">1.4</text>
<text x="53.3" y="420.43" font-size="11.5" fill="#1a1a1a" text-anchor="end">1.6</text>
<text x="53.3" y="391.31" font-size="11.5" fill="#1a1a1a" text-anchor="end">1.8</text>
<text x="53.3" y="362.20" font-size="11.5" fill="#1a1a1a" text-anchor="end">2.0</text>
<text x="157.45" y="592.6" font-size="11.5" fill="#1a1a1a" text-anchor="middle">Pillar number</text>
<text transform="translate(27.8,461.2) rotate(-90)" x="0" y="0" font-size="11.5" fill="#1a1a1a" text-anchor="middle">Cross-sectional area (mm^2)</text>
<text x="3.8" y="358.3" font-size="15" font-weight="bold" fill="#111" stroke="#111" stroke-width="0.4">c</text>
<rect x="62" y="360.0" width="88" height="34.00" fill="#fff"/>
<rect x="65.10" y="365.60" width="6.2" height="6.2" fill="#12eefe" stroke="#1a3ad2" stroke-width="1.2"/>
<text x="76.0" y="373.4" font-size="11.5" fill="#1a1a1a">Side-pillar</text>
<polygon points="63.50,381.10 72.90,381.10 68.20,389.90" fill="#f68ab2" stroke="#d42a4c" stroke-width="1.15" stroke-linejoin="round"/>
<text x="76.0" y="388.3" font-size="11.5" fill="#1a1a1a">Center-pillar</text>
<g stroke="#3540cc" stroke-width="1.3"><line x1="73.32" y1="532.16" x2="73.32" y2="488.63"/><line x1="71.22" y1="532.16" x2="75.42" y2="532.16"/><line x1="71.22" y1="488.63" x2="75.42" y2="488.63"/></g>
<g stroke="#3540cc" stroke-width="1.3"><line x1="85.34" y1="525.32" x2="85.34" y2="488.63"/><line x1="83.24" y1="525.32" x2="87.44" y2="525.32"/><line x1="83.24" y1="488.63" x2="87.44" y2="488.63"/></g>
<g stroke="#3540cc" stroke-width="1.3"><line x1="97.36" y1="518.77" x2="97.36" y2="478.30"/><line x1="95.26" y1="518.77" x2="99.46" y2="518.77"/><line x1="95.26" y1="478.30" x2="99.46" y2="478.30"/></g>
<g stroke="#3540cc" stroke-width="1.3"><line x1="109.38" y1="515.13" x2="109.38" y2="471.16"/><line x1="107.28" y1="515.13" x2="111.47" y2="515.13"/><line x1="107.28" y1="471.16" x2="111.47" y2="471.16"/></g>
<g stroke="#3540cc" stroke-width="1.3"><line x1="121.39" y1="501.15" x2="121.39" y2="474.07"/><line x1="119.29" y1="501.15" x2="123.49" y2="501.15"/><line x1="119.29" y1="474.07" x2="123.49" y2="474.07"/></g>
<g stroke="#3540cc" stroke-width="1.3"><line x1="133.41" y1="504.21" x2="133.41" y2="450.49"/><line x1="131.31" y1="504.21" x2="135.51" y2="504.21"/><line x1="131.31" y1="450.49" x2="135.51" y2="450.49"/></g>
<g stroke="#3540cc" stroke-width="1.3"><line x1="145.43" y1="490.09" x2="145.43" y2="436.37"/><line x1="143.33" y1="490.09" x2="147.53" y2="490.09"/><line x1="143.33" y1="436.37" x2="147.53" y2="436.37"/></g>
<g stroke="#3540cc" stroke-width="1.3"><line x1="157.45" y1="479.90" x2="157.45" y2="427.06"/><line x1="155.35" y1="479.90" x2="159.55" y2="479.90"/><line x1="155.35" y1="427.06" x2="159.55" y2="427.06"/></g>
<g stroke="#3540cc" stroke-width="1.3"><line x1="169.47" y1="470.00" x2="169.47" y2="421.23"/><line x1="167.37" y1="470.00" x2="171.57" y2="470.00"/><line x1="167.37" y1="421.23" x2="171.57" y2="421.23"/></g>
<g stroke="#3540cc" stroke-width="1.3"><line x1="181.49" y1="434.33" x2="181.49" y2="410.31"/><line x1="179.39" y1="434.33" x2="183.59" y2="434.33"/><line x1="179.39" y1="410.31" x2="183.59" y2="410.31"/></g>
<g stroke="#3540cc" stroke-width="1.3"><line x1="193.51" y1="444.09" x2="193.51" y2="402.60"/><line x1="191.41" y1="444.09" x2="195.61" y2="444.09"/><line x1="191.41" y1="402.60" x2="195.61" y2="402.60"/></g>
<g stroke="#3540cc" stroke-width="1.3"><line x1="205.53" y1="443.80" x2="205.53" y2="385.28"/><line x1="203.43" y1="443.80" x2="207.63" y2="443.80"/><line x1="203.43" y1="385.28" x2="207.63" y2="385.28"/></g>
<g stroke="#3540cc" stroke-width="1.3"><line x1="217.54" y1="427.93" x2="217.54" y2="379.16"/><line x1="215.44" y1="427.93" x2="219.64" y2="427.93"/><line x1="215.44" y1="379.16" x2="219.64" y2="379.16"/></g>
<g stroke="#3540cc" stroke-width="1.3"><line x1="229.56" y1="415.12" x2="229.56" y2="375.23"/><line x1="227.46" y1="415.12" x2="231.66" y2="415.12"/><line x1="227.46" y1="375.23" x2="231.66" y2="375.23"/></g>
<g stroke="#3540cc" stroke-width="1.3"><line x1="241.58" y1="422.83" x2="241.58" y2="365.62"/><line x1="239.48" y1="422.83" x2="243.68" y2="422.83"/><line x1="239.48" y1="365.62" x2="243.68" y2="365.62"/></g>
<rect x="58.20" y="492.23" width="6.2" height="6.2" fill="#12eefe" stroke="#1a3ad2" stroke-width="1.2"/>
<rect x="70.22" y="506.93" width="6.2" height="6.2" fill="#12eefe" stroke="#1a3ad2" stroke-width="1.2"/>
<rect x="82.24" y="503.87" width="6.2" height="6.2" fill="#12eefe" stroke="#1a3ad2" stroke-width="1.2"/>
<rect x="94.26" y="495.72" width="6.2" height="6.2" fill="#12eefe" stroke="#1a3ad2" stroke-width="1.2"/>
<rect x="106.28" y="489.75" width="6.2" height="6.2" fill="#12eefe" stroke="#1a3ad2" stroke-width="1.2"/>
<rect x="118.29" y="484.51" width="6.2" height="6.2" fill="#12eefe" stroke="#1a3ad2" stroke-width="1.2"/>
<rect x="130.31" y="474.03" width="6.2" height="6.2" fill="#12eefe" stroke="#1a3ad2" stroke-width="1.2"/>
<rect x="142.33" y="459.91" width="6.2" height="6.2" fill="#12eefe" stroke="#1a3ad2" stroke-width="1.2"/>
<rect x="154.35" y="450.45" width="6.2" height="6.2" fill="#12eefe" stroke="#1a3ad2" stroke-width="1.2"/>
<rect x="166.37" y="442.73" width="6.2" height="6.2" fill="#12eefe" stroke="#1a3ad2" stroke-width="1.2"/>
<rect x="178.39" y="419.73" width="6.2" height="6.2" fill="#12eefe" stroke="#1a3ad2" stroke-width="1.2"/>
<rect x="190.41" y="420.17" width="6.2" height="6.2" fill="#12eefe" stroke="#1a3ad2" stroke-width="1.2"/>
<rect x="202.43" y="411.73" width="6.2" height="6.2" fill="#12eefe" stroke="#1a3ad2" stroke-width="1.2"/>
<rect x="214.44" y="400.52" width="6.2" height="6.2" fill="#12eefe" stroke="#1a3ad2" stroke-width="1.2"/>
<rect x="226.46" y="392.66" width="6.2" height="6.2" fill="#12eefe" stroke="#1a3ad2" stroke-width="1.2"/>
<rect x="238.48" y="391.35" width="6.2" height="6.2" fill="#12eefe" stroke="#1a3ad2" stroke-width="1.2"/>
<g stroke="#e0284c" stroke-width="1.2"><line x1="73.32" y1="455.73" x2="73.32" y2="443.50"/><line x1="71.32" y1="455.73" x2="75.32" y2="455.73"/><line x1="71.32" y1="443.50" x2="75.32" y2="443.50"/></g>
<g stroke="#e0284c" stroke-width="1.2"><line x1="133.41" y1="522.99" x2="133.41" y2="511.20"/><line x1="131.41" y1="522.99" x2="135.41" y2="522.99"/><line x1="131.41" y1="511.20" x2="135.41" y2="511.20"/></g>
<g stroke="#e0284c" stroke-width="1.2"><line x1="205.53" y1="547.44" x2="205.53" y2="535.07"/><line x1="203.53" y1="547.44" x2="207.53" y2="547.44"/><line x1="203.53" y1="535.07" x2="207.53" y2="535.07"/></g>
<g stroke="#e0284c" stroke-width="1.2"><line x1="217.54" y1="542.64" x2="217.54" y2="532.89"/><line x1="215.54" y1="542.64" x2="219.54" y2="542.64"/><line x1="215.54" y1="532.89" x2="219.54" y2="532.89"/></g>
<g stroke="#e0284c" stroke-width="1.2"><line x1="241.58" y1="544.53" x2="241.58" y2="535.80"/><line x1="239.58" y1="544.53" x2="243.58" y2="544.53"/><line x1="239.58" y1="535.80" x2="243.58" y2="535.80"/></g>
<polygon points="56.60,504.24 66.00,504.24 61.30,513.04" fill="#f68ab2" stroke="#d42a4c" stroke-width="1.15" stroke-linejoin="round"/>
<polygon points="68.62,445.86 78.02,445.86 73.32,454.66" fill="#f68ab2" stroke="#d42a4c" stroke-width="1.15" stroke-linejoin="round"/>
<polygon points="80.64,472.50 90.04,472.50 85.34,481.30" fill="#f68ab2" stroke="#d42a4c" stroke-width="1.15" stroke-linejoin="round"/>
<polygon points="92.66,484.30 102.06,484.30 97.36,493.10" fill="#f68ab2" stroke="#d42a4c" stroke-width="1.15" stroke-linejoin="round"/>
<polygon points="104.67,498.42 114.08,498.42 109.38,507.22" fill="#f68ab2" stroke="#d42a4c" stroke-width="1.15" stroke-linejoin="round"/>
<polygon points="116.69,504.24 126.09,504.24 121.39,513.04" fill="#f68ab2" stroke="#d42a4c" stroke-width="1.15" stroke-linejoin="round"/>
<polygon points="128.71,513.70 138.11,513.70 133.41,522.50" fill="#f68ab2" stroke="#d42a4c" stroke-width="1.15" stroke-linejoin="round"/>
<polygon points="140.73,520.69 150.13,520.69 145.43,529.49" fill="#f68ab2" stroke="#d42a4c" stroke-width="1.15" stroke-linejoin="round"/>
<polygon points="152.75,522.44 162.15,522.44 157.45,531.24" fill="#f68ab2" stroke="#d42a4c" stroke-width="1.15" stroke-linejoin="round"/>
<polygon points="164.77,530.30 174.17,530.30 169.47,539.10" fill="#f68ab2" stroke="#d42a4c" stroke-width="1.15" stroke-linejoin="round"/>
<polygon points="176.79,528.26 186.19,528.26 181.49,537.06" fill="#f68ab2" stroke="#d42a4c" stroke-width="1.15" stroke-linejoin="round"/>
<polygon points="188.81,533.79 198.21,533.79 193.51,542.59" fill="#f68ab2" stroke="#d42a4c" stroke-width="1.15" stroke-linejoin="round"/>
<polygon points="200.83,537.57 210.23,537.57 205.53,546.37" fill="#f68ab2" stroke="#d42a4c" stroke-width="1.15" stroke-linejoin="round"/>
<polygon points="212.84,533.79 222.24,533.79 217.54,542.59" fill="#f68ab2" stroke="#d42a4c" stroke-width="1.15" stroke-linejoin="round"/>
<polygon points="224.86,532.62 234.26,532.62 229.56,541.42" fill="#f68ab2" stroke="#d42a4c" stroke-width="1.15" stroke-linejoin="round"/>
<polygon points="236.88,536.12 246.28,536.12 241.58,544.92" fill="#f68ab2" stroke="#d42a4c" stroke-width="1.15" stroke-linejoin="round"/>
<rect x="61.3" y="359.2" width="192.30" height="203.8" fill="none" stroke="#4a4a4a" stroke-width="1.5"/>
<g stroke="#4a4a4a" stroke-width="1.2">
<line x1="61.30" y1="563.0" x2="61.30" y2="565.3"/><line x1="61.30" y1="359.2" x2="61.30" y2="356.9"/>
<line x1="85.34" y1="563.0" x2="85.34" y2="565.3"/><line x1="85.34" y1="359.2" x2="85.34" y2="356.9"/>
<line x1="109.38" y1="563.0" x2="109.38" y2="565.3"/><line x1="109.38" y1="359.2" x2="109.38" y2="356.9"/>
<line x1="133.41" y1="563.0" x2="133.41" y2="565.3"/><line x1="133.41" y1="359.2" x2="133.41" y2="356.9"/>
<line x1="157.45" y1="563.0" x2="157.45" y2="565.3"/><line x1="157.45" y1="359.2" x2="157.45" y2="356.9"/>
<line x1="181.49" y1="563.0" x2="181.49" y2="565.3"/><line x1="181.49" y1="359.2" x2="181.49" y2="356.9"/>
<line x1="205.53" y1="563.0" x2="205.53" y2="565.3"/><line x1="205.53" y1="359.2" x2="205.53" y2="356.9"/>
<line x1="229.56" y1="563.0" x2="229.56" y2="565.3"/><line x1="229.56" y1="359.2" x2="229.56" y2="356.9"/>
<line x1="253.60" y1="563.0" x2="253.60" y2="565.3"/><line x1="253.60" y1="359.2" x2="253.60" y2="356.9"/>
<line x1="59.0" y1="533.89" x2="61.3" y2="533.89"/><line x1="253.6" y1="533.89" x2="255.9" y2="533.89"/>
<line x1="59.0" y1="504.77" x2="61.3" y2="504.77"/><line x1="253.6" y1="504.77" x2="255.9" y2="504.77"/>
<line x1="59.0" y1="475.66" x2="61.3" y2="475.66"/><line x1="253.6" y1="475.66" x2="255.9" y2="475.66"/>
<line x1="59.0" y1="446.54" x2="61.3" y2="446.54"/><line x1="253.6" y1="446.54" x2="255.9" y2="446.54"/>
<line x1="59.0" y1="417.43" x2="61.3" y2="417.43"/><line x1="253.6" y1="417.43" x2="255.9" y2="417.43"/>
<line x1="59.0" y1="388.31" x2="61.3" y2="388.31"/><line x1="253.6" y1="388.31" x2="255.9" y2="388.31"/>
<line x1="59.0" y1="359.20" x2="61.3" y2="359.20"/><line x1="253.6" y1="359.20" x2="255.9" y2="359.20"/>
</g>
<g stroke="#8e8e8e" stroke-width="1.1" stroke-dasharray="1.2 6.35" stroke-dashoffset="0.6" fill="none">
<line x1="339.62" y1="563.0" x2="339.62" y2="361.2"/>
<line x1="363.75" y1="563.0" x2="363.75" y2="361.2"/>
<line x1="387.88" y1="563.0" x2="387.88" y2="361.2"/>
<line x1="412.00" y1="563.0" x2="412.00" y2="361.2"/>
<line x1="436.12" y1="563.0" x2="436.12" y2="361.2"/>
<line x1="460.25" y1="563.0" x2="460.25" y2="361.2"/>
<line x1="484.38" y1="563.0" x2="484.38" y2="361.2"/>
<line x1="315.5" y1="522.24" x2="506.5" y2="522.24"/>
<line x1="315.5" y1="481.48" x2="506.5" y2="481.48"/>
<line x1="315.5" y1="440.72" x2="506.5" y2="440.72"/>
<line x1="315.5" y1="399.96" x2="506.5" y2="399.96"/>
</g>
<text x="315.70" y="576.8" font-size="11.5" fill="#1a1a1a" text-anchor="middle">0</text>
<text x="339.82" y="576.8" font-size="11.5" fill="#1a1a1a" text-anchor="middle">2</text>
<text x="363.95" y="576.8" font-size="11.5" fill="#1a1a1a" text-anchor="middle">4</text>
<text x="388.07" y="576.8" font-size="11.5" fill="#1a1a1a" text-anchor="middle">6</text>
<text x="412.20" y="576.8" font-size="11.5" fill="#1a1a1a" text-anchor="middle">8</text>
<text x="436.32" y="576.8" font-size="11.5" fill="#1a1a1a" text-anchor="middle">10</text>
<text x="460.45" y="576.8" font-size="11.5" fill="#1a1a1a" text-anchor="middle">12</text>
<text x="484.57" y="576.8" font-size="11.5" fill="#1a1a1a" text-anchor="middle">14</text>
<text x="508.70" y="576.8" font-size="11.5" fill="#1a1a1a" text-anchor="middle">16</text>
<text x="309.3" y="525.24" font-size="11.5" fill="#1a1a1a" text-anchor="end">5</text>
<text x="309.3" y="484.48" font-size="11.5" fill="#1a1a1a" text-anchor="end">10</text>
<text x="309.3" y="443.72" font-size="11.5" fill="#1a1a1a" text-anchor="end">15</text>
<text x="309.3" y="402.96" font-size="11.5" fill="#1a1a1a" text-anchor="end">20</text>
<text x="309.3" y="362.20" font-size="11.5" fill="#1a1a1a" text-anchor="end">25</text>
<text x="412.00" y="592.6" font-size="11.5" fill="#1a1a1a" text-anchor="middle">Pillar number</text>
<text transform="translate(286.9,458.5) rotate(-90)" x="0" y="0" font-size="11.5" fill="#1a1a1a" text-anchor="middle">Perimeter (mm)</text>
<text x="277.0" y="358.0" font-size="15" font-weight="bold" fill="#111" stroke="#111" stroke-width="0.4">d</text>
<rect x="316.3" y="360.0" width="68.69999999999999" height="34.00" fill="#fff"/>
<rect x="319.80" y="365.50" width="6.2" height="6.2" fill="#12eefe" stroke="#1a3ad2" stroke-width="1.2"/>
<text x="331.5" y="373.4" font-size="11.5" fill="#1a1a1a">Side-pillar</text>
<polygon points="318.20,381.00 327.60,381.00 322.90,389.80" fill="#f68ab2" stroke="#d42a4c" stroke-width="1.15" stroke-linejoin="round"/>
<text x="331.5" y="388.3" font-size="11.5" fill="#1a1a1a">Center-pillar</text>
<g stroke="#3540cc" stroke-width="1.3"><line x1="315.50" y1="531.22" x2="315.50" y2="523.07"/><line x1="313.40" y1="531.22" x2="317.60" y2="531.22"/><line x1="313.40" y1="523.07" x2="317.60" y2="523.07"/></g>
<g stroke="#3540cc" stroke-width="1.3"><line x1="339.62" y1="525.11" x2="339.62" y2="517.36"/><line x1="337.52" y1="525.11" x2="341.73" y2="525.11"/><line x1="337.52" y1="517.36" x2="341.73" y2="517.36"/></g>
<g stroke="#3540cc" stroke-width="1.3"><line x1="351.69" y1="518.99" x2="351.69" y2="510.84"/><line x1="349.59" y1="518.99" x2="353.79" y2="518.99"/><line x1="349.59" y1="510.84" x2="353.79" y2="510.84"/></g>
<g stroke="#3540cc" stroke-width="1.3"><line x1="363.75" y1="510.84" x2="363.75" y2="502.20"/><line x1="361.65" y1="510.84" x2="365.85" y2="510.84"/><line x1="361.65" y1="502.20" x2="365.85" y2="502.20"/></g>
<g stroke="#3540cc" stroke-width="1.3"><line x1="387.88" y1="489.81" x2="387.88" y2="478.64"/><line x1="385.77" y1="489.81" x2="389.98" y2="489.81"/><line x1="385.77" y1="478.64" x2="389.98" y2="478.64"/></g>
<g stroke="#3540cc" stroke-width="1.3"><line x1="399.94" y1="474.97" x2="399.94" y2="461.52"/><line x1="397.84" y1="474.97" x2="402.04" y2="474.97"/><line x1="397.84" y1="461.52" x2="402.04" y2="461.52"/></g>
<g stroke="#3540cc" stroke-width="1.3"><line x1="412.00" y1="457.37" x2="412.00" y2="440.25"/><line x1="409.90" y1="457.37" x2="414.10" y2="457.37"/><line x1="409.90" y1="440.25" x2="414.10" y2="440.25"/></g>
<g stroke="#3540cc" stroke-width="1.3"><line x1="424.06" y1="444.40" x2="424.06" y2="421.41"/><line x1="421.96" y1="444.40" x2="426.16" y2="444.40"/><line x1="421.96" y1="421.41" x2="426.16" y2="421.41"/></g>
<g stroke="#3540cc" stroke-width="1.3"><line x1="436.12" y1="420.03" x2="436.12" y2="398.51"/><line x1="434.02" y1="420.03" x2="438.23" y2="420.03"/><line x1="434.02" y1="398.51" x2="438.23" y2="398.51"/></g>
<g stroke="#3540cc" stroke-width="1.3"><line x1="448.19" y1="408.13" x2="448.19" y2="391.01"/><line x1="446.09" y1="408.13" x2="450.29" y2="408.13"/><line x1="446.09" y1="391.01" x2="450.29" y2="391.01"/></g>
<g stroke="#3540cc" stroke-width="1.3"><line x1="460.25" y1="396.55" x2="460.25" y2="384.98"/><line x1="458.15" y1="396.55" x2="462.35" y2="396.55"/><line x1="458.15" y1="384.98" x2="462.35" y2="384.98"/></g>
<g stroke="#3540cc" stroke-width="1.3"><line x1="472.31" y1="387.75" x2="472.31" y2="380.00"/><line x1="470.21" y1="387.75" x2="474.41" y2="387.75"/><line x1="470.21" y1="380.00" x2="474.41" y2="380.00"/></g>
<g stroke="#3540cc" stroke-width="1.3"><line x1="484.38" y1="389.38" x2="484.38" y2="379.60"/><line x1="482.27" y1="389.38" x2="486.48" y2="389.38"/><line x1="482.27" y1="379.60" x2="486.48" y2="379.60"/></g>
<g stroke="#3540cc" stroke-width="1.3"><line x1="496.44" y1="385.30" x2="496.44" y2="372.26"/><line x1="494.34" y1="385.30" x2="498.54" y2="385.30"/><line x1="494.34" y1="372.26" x2="498.54" y2="372.26"/></g>
<rect x="312.40" y="523.96" width="6.2" height="6.2" fill="#12eefe" stroke="#1a3ad2" stroke-width="1.2"/>
<rect x="324.46" y="524.70" width="6.2" height="6.2" fill="#12eefe" stroke="#1a3ad2" stroke-width="1.2"/>
<rect x="336.52" y="518.01" width="6.2" height="6.2" fill="#12eefe" stroke="#1a3ad2" stroke-width="1.2"/>
<rect x="348.59" y="511.82" width="6.2" height="6.2" fill="#12eefe" stroke="#1a3ad2" stroke-width="1.2"/>
<rect x="360.65" y="503.42" width="6.2" height="6.2" fill="#12eefe" stroke="#1a3ad2" stroke-width="1.2"/>
<rect x="372.71" y="493.39" width="6.2" height="6.2" fill="#12eefe" stroke="#1a3ad2" stroke-width="1.2"/>
<rect x="384.77" y="481.17" width="6.2" height="6.2" fill="#12eefe" stroke="#1a3ad2" stroke-width="1.2"/>
<rect x="396.84" y="465.35" width="6.2" height="6.2" fill="#12eefe" stroke="#1a3ad2" stroke-width="1.2"/>
<rect x="408.90" y="445.79" width="6.2" height="6.2" fill="#12eefe" stroke="#1a3ad2" stroke-width="1.2"/>
<rect x="420.96" y="430.30" width="6.2" height="6.2" fill="#12eefe" stroke="#1a3ad2" stroke-width="1.2"/>
<rect x="433.02" y="406.49" width="6.2" height="6.2" fill="#12eefe" stroke="#1a3ad2" stroke-width="1.2"/>
<rect x="445.09" y="396.88" width="6.2" height="6.2" fill="#12eefe" stroke="#1a3ad2" stroke-width="1.2"/>
<rect x="457.15" y="387.34" width="6.2" height="6.2" fill="#12eefe" stroke="#1a3ad2" stroke-width="1.2"/>
<rect x="469.21" y="380.82" width="6.2" height="6.2" fill="#12eefe" stroke="#1a3ad2" stroke-width="1.2"/>
<rect x="481.27" y="381.30" width="6.2" height="6.2" fill="#12eefe" stroke="#1a3ad2" stroke-width="1.2"/>
<rect x="493.34" y="375.76" width="6.2" height="6.2" fill="#12eefe" stroke="#1a3ad2" stroke-width="1.2"/>
<polygon points="310.80,526.43 320.20,526.43 315.50,535.23" fill="#f68ab2" stroke="#d42a4c" stroke-width="1.15" stroke-linejoin="round"/>
<polygon points="322.86,521.05 332.26,521.05 327.56,529.85" fill="#f68ab2" stroke="#d42a4c" stroke-width="1.15" stroke-linejoin="round"/>
<polygon points="334.93,520.56 344.32,520.56 339.62,529.36" fill="#f68ab2" stroke="#d42a4c" stroke-width="1.15" stroke-linejoin="round"/>
<polygon points="346.99,517.21 356.39,517.21 351.69,526.01" fill="#f68ab2" stroke="#d42a4c" stroke-width="1.15" stroke-linejoin="round"/>
<polygon points="359.05,513.06 368.45,513.06 363.75,521.86" fill="#f68ab2" stroke="#d42a4c" stroke-width="1.15" stroke-linejoin="round"/>
<polygon points="371.11,508.82 380.51,508.82 375.81,517.62" fill="#f68ab2" stroke="#d42a4c" stroke-width="1.15" stroke-linejoin="round"/>
<polygon points="383.18,507.19 392.57,507.19 387.88,515.99" fill="#f68ab2" stroke="#d42a4c" stroke-width="1.15" stroke-linejoin="round"/>
<polygon points="395.24,503.52 404.64,503.52 399.94,512.32" fill="#f68ab2" stroke="#d42a4c" stroke-width="1.15" stroke-linejoin="round"/>
<polygon points="407.30,501.40 416.70,501.40 412.00,510.20" fill="#f68ab2" stroke="#d42a4c" stroke-width="1.15" stroke-linejoin="round"/>
<polygon points="419.36,500.42 428.76,500.42 424.06,509.22" fill="#f68ab2" stroke="#d42a4c" stroke-width="1.15" stroke-linejoin="round"/>
<polygon points="431.43,498.22 440.82,498.22 436.12,507.02" fill="#f68ab2" stroke="#d42a4c" stroke-width="1.15" stroke-linejoin="round"/>
<polygon points="443.49,494.88 452.89,494.88 448.19,503.68" fill="#f68ab2" stroke="#d42a4c" stroke-width="1.15" stroke-linejoin="round"/>
<polygon points="455.55,493.57 464.95,493.57 460.25,502.37" fill="#f68ab2" stroke="#d42a4c" stroke-width="1.15" stroke-linejoin="round"/>
<polygon points="467.61,491.62 477.01,491.62 472.31,500.42" fill="#f68ab2" stroke="#d42a4c" stroke-width="1.15" stroke-linejoin="round"/>
<polygon points="479.68,489.99 489.07,489.99 484.38,498.79" fill="#f68ab2" stroke="#d42a4c" stroke-width="1.15" stroke-linejoin="round"/>
<polygon points="491.74,487.46 501.14,487.46 496.44,496.26" fill="#f68ab2" stroke="#d42a4c" stroke-width="1.15" stroke-linejoin="round"/>
<rect x="315.5" y="359.2" width="193.00" height="203.8" fill="none" stroke="#4a4a4a" stroke-width="1.5"/>
<g stroke="#4a4a4a" stroke-width="1.2">
<line x1="315.50" y1="563.0" x2="315.50" y2="565.3"/><line x1="315.50" y1="359.2" x2="315.50" y2="356.9"/>
<line x1="339.62" y1="563.0" x2="339.62" y2="565.3"/><line x1="339.62" y1="359.2" x2="339.62" y2="356.9"/>
<line x1="363.75" y1="563.0" x2="363.75" y2="565.3"/><line x1="363.75" y1="359.2" x2="363.75" y2="356.9"/>
<line x1="387.88" y1="563.0" x2="387.88" y2="565.3"/><line x1="387.88" y1="359.2" x2="387.88" y2="356.9"/>
<line x1="412.00" y1="563.0" x2="412.00" y2="565.3"/><line x1="412.00" y1="359.2" x2="412.00" y2="356.9"/>
<line x1="436.12" y1="563.0" x2="436.12" y2="565.3"/><line x1="436.12" y1="359.2" x2="436.12" y2="356.9"/>
<line x1="460.25" y1="563.0" x2="460.25" y2="565.3"/><line x1="460.25" y1="359.2" x2="460.25" y2="356.9"/>
<line x1="484.38" y1="563.0" x2="484.38" y2="565.3"/><line x1="484.38" y1="359.2" x2="484.38" y2="356.9"/>
<line x1="508.50" y1="563.0" x2="508.50" y2="565.3"/><line x1="508.50" y1="359.2" x2="508.50" y2="356.9"/>
<line x1="313.2" y1="522.24" x2="315.5" y2="522.24"/><line x1="508.5" y1="522.24" x2="510.8" y2="522.24"/>
<line x1="313.2" y1="481.48" x2="315.5" y2="481.48"/><line x1="508.5" y1="481.48" x2="510.8" y2="481.48"/>
<line x1="313.2" y1="440.72" x2="315.5" y2="440.72"/><line x1="508.5" y1="440.72" x2="510.8" y2="440.72"/>
<line x1="313.2" y1="399.96" x2="315.5" y2="399.96"/><line x1="508.5" y1="399.96" x2="510.8" y2="399.96"/>
<line x1="313.2" y1="359.20" x2="315.5" y2="359.20"/><line x1="508.5" y1="359.20" x2="510.8" y2="359.20"/>
</g>
<g stroke="#8e8e8e" stroke-width="1.1" stroke-dasharray="1.2 6.35" stroke-dashoffset="0.6" fill="none">
<line x1="607.34" y1="563.0" x2="607.34" y2="361.2"/>
<line x1="631.38" y1="563.0" x2="631.38" y2="361.2"/>
<line x1="655.41" y1="563.0" x2="655.41" y2="361.2"/>
<line x1="679.45" y1="563.0" x2="679.45" y2="361.2"/>
<line x1="703.49" y1="563.0" x2="703.49" y2="361.2"/>
<line x1="727.52" y1="563.0" x2="727.52" y2="361.2"/>
<line x1="751.56" y1="563.0" x2="751.56" y2="361.2"/>
<line x1="583.3" y1="533.89" x2="773.6" y2="533.89"/>
<line x1="583.3" y1="504.77" x2="773.6" y2="504.77"/>
<line x1="583.3" y1="475.66" x2="773.6" y2="475.66"/>
<line x1="583.3" y1="446.54" x2="773.6" y2="446.54"/>
<line x1="583.3" y1="417.43" x2="773.6" y2="417.43"/>
<line x1="583.3" y1="388.31" x2="773.6" y2="388.31"/>
</g>
<text x="583.50" y="576.8" font-size="11.5" fill="#1a1a1a" text-anchor="middle">0</text>
<text x="607.54" y="576.8" font-size="11.5" fill="#1a1a1a" text-anchor="middle">2</text>
<text x="631.58" y="576.8" font-size="11.5" fill="#1a1a1a" text-anchor="middle">4</text>
<text x="655.61" y="576.8" font-size="11.5" fill="#1a1a1a" text-anchor="middle">6</text>
<text x="679.65" y="576.8" font-size="11.5" fill="#1a1a1a" text-anchor="middle">8</text>
<text x="703.69" y="576.8" font-size="11.5" fill="#1a1a1a" text-anchor="middle">10</text>
<text x="727.73" y="576.8" font-size="11.5" fill="#1a1a1a" text-anchor="middle">12</text>
<text x="751.76" y="576.8" font-size="11.5" fill="#1a1a1a" text-anchor="middle">14</text>
<text x="775.80" y="576.8" font-size="11.5" fill="#1a1a1a" text-anchor="middle">16</text>
<text x="577.0" y="536.89" font-size="11.5" fill="#1a1a1a" text-anchor="end">0.05</text>
<text x="577.0" y="507.77" font-size="11.5" fill="#1a1a1a" text-anchor="end">0.10</text>
<text x="577.0" y="478.66" font-size="11.5" fill="#1a1a1a" text-anchor="end">0.15</text>
<text x="577.0" y="449.54" font-size="11.5" fill="#1a1a1a" text-anchor="end">0.20</text>
<text x="577.0" y="420.43" font-size="11.5" fill="#1a1a1a" text-anchor="end">0.25</text>
<text x="577.0" y="391.31" font-size="11.5" fill="#1a1a1a" text-anchor="end">0.30</text>
<text x="577.0" y="362.20" font-size="11.5" fill="#1a1a1a" text-anchor="end">0.35</text>
<text x="679.45" y="592.6" font-size="11.5" fill="#1a1a1a" text-anchor="middle">Pillar number</text>
<text transform="translate(544.4,461.2) rotate(-90)" x="0" y="0" font-size="11.5" fill="#1a1a1a" text-anchor="middle">Area/perimeter (mm)</text>
<text x="534.6" y="358.0" font-size="15" font-weight="bold" fill="#111" stroke="#111" stroke-width="0.4">e</text>
<rect x="686" y="360.0" width="88.79999999999995" height="34.00" fill="#fff"/>
<rect x="696.40" y="366.30" width="6.2" height="6.2" fill="#12eefe" stroke="#1a3ad2" stroke-width="1.2"/>
<text x="708.1" y="373.3" font-size="11.5" fill="#1a1a1a">Side-pillar</text>
<polygon points="694.80,381.80 704.20,381.80 699.50,390.60" fill="#f68ab2" stroke="#d42a4c" stroke-width="1.15" stroke-linejoin="round"/>
<text x="708.1" y="388.4" font-size="11.5" fill="#1a1a1a">Center-pillar</text>
<g stroke="#3540cc" stroke-width="1.3"><line x1="583.30" y1="422.95" x2="583.30" y2="412.47"/><line x1="581.20" y1="422.95" x2="585.40" y2="422.95"/><line x1="581.20" y1="412.47" x2="585.40" y2="412.47"/></g>
<g stroke="#3540cc" stroke-width="1.3"><line x1="595.32" y1="446.24" x2="595.32" y2="423.53"/><line x1="593.22" y1="446.24" x2="597.42" y2="446.24"/><line x1="593.22" y1="423.53" x2="597.42" y2="423.53"/></g>
<g stroke="#3540cc" stroke-width="1.3"><line x1="607.34" y1="454.39" x2="607.34" y2="439.84"/><line x1="605.24" y1="454.39" x2="609.44" y2="454.39"/><line x1="605.24" y1="439.84" x2="609.44" y2="439.84"/></g>
<g stroke="#3540cc" stroke-width="1.3"><line x1="619.36" y1="466.62" x2="619.36" y2="452.65"/><line x1="617.26" y1="466.62" x2="621.46" y2="466.62"/><line x1="617.26" y1="452.65" x2="621.46" y2="452.65"/></g>
<g stroke="#3540cc" stroke-width="1.3"><line x1="631.38" y1="480.02" x2="631.38" y2="464.53"/><line x1="629.27" y1="480.02" x2="633.48" y2="480.02"/><line x1="629.27" y1="464.53" x2="633.48" y2="464.53"/></g>
<g stroke="#3540cc" stroke-width="1.3"><line x1="643.39" y1="488.17" x2="643.39" y2="477.69"/><line x1="641.29" y1="488.17" x2="645.49" y2="488.17"/><line x1="641.29" y1="477.69" x2="645.49" y2="477.69"/></g>
<g stroke="#3540cc" stroke-width="1.3"><line x1="655.41" y1="499.35" x2="655.41" y2="484.67"/><line x1="653.31" y1="499.35" x2="657.51" y2="499.35"/><line x1="653.31" y1="484.67" x2="657.51" y2="484.67"/></g>
<g stroke="#3540cc" stroke-width="1.3"><line x1="667.43" y1="505.87" x2="667.43" y2="493.99"/><line x1="665.33" y1="505.87" x2="669.53" y2="505.87"/><line x1="665.33" y1="493.99" x2="669.53" y2="493.99"/></g>
<g stroke="#3540cc" stroke-width="1.3"><line x1="679.45" y1="514.20" x2="679.45" y2="498.82"/><line x1="677.35" y1="514.20" x2="681.55" y2="514.20"/><line x1="677.35" y1="498.82" x2="681.55" y2="498.82"/></g>
<g stroke="#3540cc" stroke-width="1.3"><line x1="691.47" y1="516.99" x2="691.47" y2="505.64"/><line x1="689.37" y1="516.99" x2="693.57" y2="516.99"/><line x1="689.37" y1="505.64" x2="693.57" y2="505.64"/></g>
<g stroke="#3540cc" stroke-width="1.3"><line x1="703.49" y1="519.20" x2="703.49" y2="509.71"/><line x1="701.39" y1="519.20" x2="705.59" y2="519.20"/><line x1="701.39" y1="509.71" x2="705.59" y2="509.71"/></g>
<g stroke="#3540cc" stroke-width="1.3"><line x1="715.51" y1="522.29" x2="715.51" y2="513.21"/><line x1="713.41" y1="522.29" x2="717.61" y2="522.29"/><line x1="713.41" y1="513.21" x2="717.61" y2="513.21"/></g>
<g stroke="#3540cc" stroke-width="1.3"><line x1="727.52" y1="524.27" x2="727.52" y2="514.60"/><line x1="725.42" y1="524.27" x2="729.62" y2="524.27"/><line x1="725.42" y1="514.60" x2="729.62" y2="514.60"/></g>
<g stroke="#3540cc" stroke-width="1.3"><line x1="739.54" y1="522.70" x2="739.54" y2="514.37"/><line x1="737.44" y1="522.70" x2="741.64" y2="522.70"/><line x1="737.44" y1="514.37" x2="741.64" y2="514.37"/></g>
<g stroke="#3540cc" stroke-width="1.3"><line x1="763.58" y1="522.70" x2="763.58" y2="512.62"/><line x1="761.48" y1="522.70" x2="765.68" y2="522.70"/><line x1="761.48" y1="512.62" x2="765.68" y2="512.62"/></g>
<rect x="580.20" y="414.61" width="6.2" height="6.2" fill="#12eefe" stroke="#1a3ad2" stroke-width="1.2"/>
<rect x="592.22" y="431.15" width="6.2" height="6.2" fill="#12eefe" stroke="#1a3ad2" stroke-width="1.2"/>
<rect x="604.24" y="444.31" width="6.2" height="6.2" fill="#12eefe" stroke="#1a3ad2" stroke-width="1.2"/>
<rect x="616.26" y="456.54" width="6.2" height="6.2" fill="#12eefe" stroke="#1a3ad2" stroke-width="1.2"/>
<rect x="628.27" y="469.05" width="6.2" height="6.2" fill="#12eefe" stroke="#1a3ad2" stroke-width="1.2"/>
<rect x="640.29" y="479.54" width="6.2" height="6.2" fill="#12eefe" stroke="#1a3ad2" stroke-width="1.2"/>
<rect x="652.31" y="488.68" width="6.2" height="6.2" fill="#12eefe" stroke="#1a3ad2" stroke-width="1.2"/>
<rect x="664.33" y="495.55" width="6.2" height="6.2" fill="#12eefe" stroke="#1a3ad2" stroke-width="1.2"/>
<rect x="676.35" y="503.47" width="6.2" height="6.2" fill="#12eefe" stroke="#1a3ad2" stroke-width="1.2"/>
<rect x="688.37" y="508.48" width="6.2" height="6.2" fill="#12eefe" stroke="#1a3ad2" stroke-width="1.2"/>
<rect x="700.39" y="511.50" width="6.2" height="6.2" fill="#12eefe" stroke="#1a3ad2" stroke-width="1.2"/>
<rect x="712.41" y="514.07" width="6.2" height="6.2" fill="#12eefe" stroke="#1a3ad2" stroke-width="1.2"/>
<rect x="724.42" y="515.06" width="6.2" height="6.2" fill="#12eefe" stroke="#1a3ad2" stroke-width="1.2"/>
<rect x="736.44" y="514.76" width="6.2" height="6.2" fill="#12eefe" stroke="#1a3ad2" stroke-width="1.2"/>
<rect x="748.46" y="513.60" width="6.2" height="6.2" fill="#12eefe" stroke="#1a3ad2" stroke-width="1.2"/>
<rect x="760.48" y="514.07" width="6.2" height="6.2" fill="#12eefe" stroke="#1a3ad2" stroke-width="1.2"/>
<g stroke="#e0284c" stroke-width="1.2"><line x1="739.54" y1="511.46" x2="739.54" y2="504.47"/><line x1="737.54" y1="511.46" x2="741.54" y2="511.46"/><line x1="737.54" y1="504.47" x2="741.54" y2="504.47"/></g>
<polygon points="578.60,416.72 588.00,416.72 583.30,425.52" fill="#f68ab2" stroke="#d42a4c" stroke-width="1.15" stroke-linejoin="round"/>
<polygon points="590.62,387.61 600.02,387.61 595.32,396.41" fill="#f68ab2" stroke="#d42a4c" stroke-width="1.15" stroke-linejoin="round"/>
<polygon points="602.64,412.06 612.04,412.06 607.34,420.86" fill="#f68ab2" stroke="#d42a4c" stroke-width="1.15" stroke-linejoin="round"/>
<polygon points="614.66,434.19 624.06,434.19 619.36,442.99" fill="#f68ab2" stroke="#d42a4c" stroke-width="1.15" stroke-linejoin="round"/>
<polygon points="626.67,455.15 636.08,455.15 631.38,463.95" fill="#f68ab2" stroke="#d42a4c" stroke-width="1.15" stroke-linejoin="round"/>
<polygon points="638.69,467.67 648.09,467.67 643.39,476.47" fill="#f68ab2" stroke="#d42a4c" stroke-width="1.15" stroke-linejoin="round"/>
<polygon points="650.71,475.77 660.11,475.77 655.41,484.57" fill="#f68ab2" stroke="#d42a4c" stroke-width="1.15" stroke-linejoin="round"/>
<polygon points="662.73,484.85 672.13,484.85 667.43,493.65" fill="#f68ab2" stroke="#d42a4c" stroke-width="1.15" stroke-linejoin="round"/>
<polygon points="674.75,488.93 684.15,488.93 679.45,497.73" fill="#f68ab2" stroke="#d42a4c" stroke-width="1.15" stroke-linejoin="round"/>
<polygon points="686.77,494.57 696.17,494.57 691.47,503.37" fill="#f68ab2" stroke="#d42a4c" stroke-width="1.15" stroke-linejoin="round"/>
<polygon points="698.79,496.15 708.19,496.15 703.49,504.95" fill="#f68ab2" stroke="#d42a4c" stroke-width="1.15" stroke-linejoin="round"/>
<polygon points="710.81,501.56 720.21,501.56 715.51,510.36" fill="#f68ab2" stroke="#d42a4c" stroke-width="1.15" stroke-linejoin="round"/>
<polygon points="722.82,504.65 732.23,504.65 727.52,513.45" fill="#f68ab2" stroke="#d42a4c" stroke-width="1.15" stroke-linejoin="round"/>
<polygon points="734.84,504.65 744.24,504.65 739.54,513.45" fill="#f68ab2" stroke="#d42a4c" stroke-width="1.15" stroke-linejoin="round"/>
<polygon points="746.86,505.70 756.26,505.70 751.56,514.50" fill="#f68ab2" stroke="#d42a4c" stroke-width="1.15" stroke-linejoin="round"/>
<polygon points="758.88,508.72 768.28,508.72 763.58,517.52" fill="#f68ab2" stroke="#d42a4c" stroke-width="1.15" stroke-linejoin="round"/>
<rect x="583.3" y="359.2" width="192.30" height="203.8" fill="none" stroke="#4a4a4a" stroke-width="1.5"/>
<g stroke="#4a4a4a" stroke-width="1.2">
<line x1="583.30" y1="563.0" x2="583.30" y2="565.3"/><line x1="583.30" y1="359.2" x2="583.30" y2="356.9"/>
<line x1="607.34" y1="563.0" x2="607.34" y2="565.3"/><line x1="607.34" y1="359.2" x2="607.34" y2="356.9"/>
<line x1="631.38" y1="563.0" x2="631.38" y2="565.3"/><line x1="631.38" y1="359.2" x2="631.38" y2="356.9"/>
<line x1="655.41" y1="563.0" x2="655.41" y2="565.3"/><line x1="655.41" y1="359.2" x2="655.41" y2="356.9"/>
<line x1="679.45" y1="563.0" x2="679.45" y2="565.3"/><line x1="679.45" y1="359.2" x2="679.45" y2="356.9"/>
<line x1="703.49" y1="563.0" x2="703.49" y2="565.3"/><line x1="703.49" y1="359.2" x2="703.49" y2="356.9"/>
<line x1="727.52" y1="563.0" x2="727.52" y2="565.3"/><line x1="727.52" y1="359.2" x2="727.52" y2="356.9"/>
<line x1="751.56" y1="563.0" x2="751.56" y2="565.3"/><line x1="751.56" y1="359.2" x2="751.56" y2="356.9"/>
<line x1="775.60" y1="563.0" x2="775.60" y2="565.3"/><line x1="775.60" y1="359.2" x2="775.60" y2="356.9"/>
<line x1="581.0" y1="533.89" x2="583.3" y2="533.89"/><line x1="775.6" y1="533.89" x2="777.9" y2="533.89"/>
<line x1="581.0" y1="504.77" x2="583.3" y2="504.77"/><line x1="775.6" y1="504.77" x2="777.9" y2="504.77"/>
<line x1="581.0" y1="475.66" x2="583.3" y2="475.66"/><line x1="775.6" y1="475.66" x2="777.9" y2="475.66"/>
<line x1="581.0" y1="446.54" x2="583.3" y2="446.54"/><line x1="775.6" y1="446.54" x2="777.9" y2="446.54"/>
<line x1="581.0" y1="417.43" x2="583.3" y2="417.43"/><line x1="775.6" y1="417.43" x2="777.9" y2="417.43"/>
<line x1="581.0" y1="388.31" x2="583.3" y2="388.31"/><line x1="775.6" y1="388.31" x2="777.9" y2="388.31"/>
<line x1="581.0" y1="359.20" x2="583.3" y2="359.20"/><line x1="775.6" y1="359.20" x2="777.9" y2="359.20"/>
</g>
</svg></body></html>
